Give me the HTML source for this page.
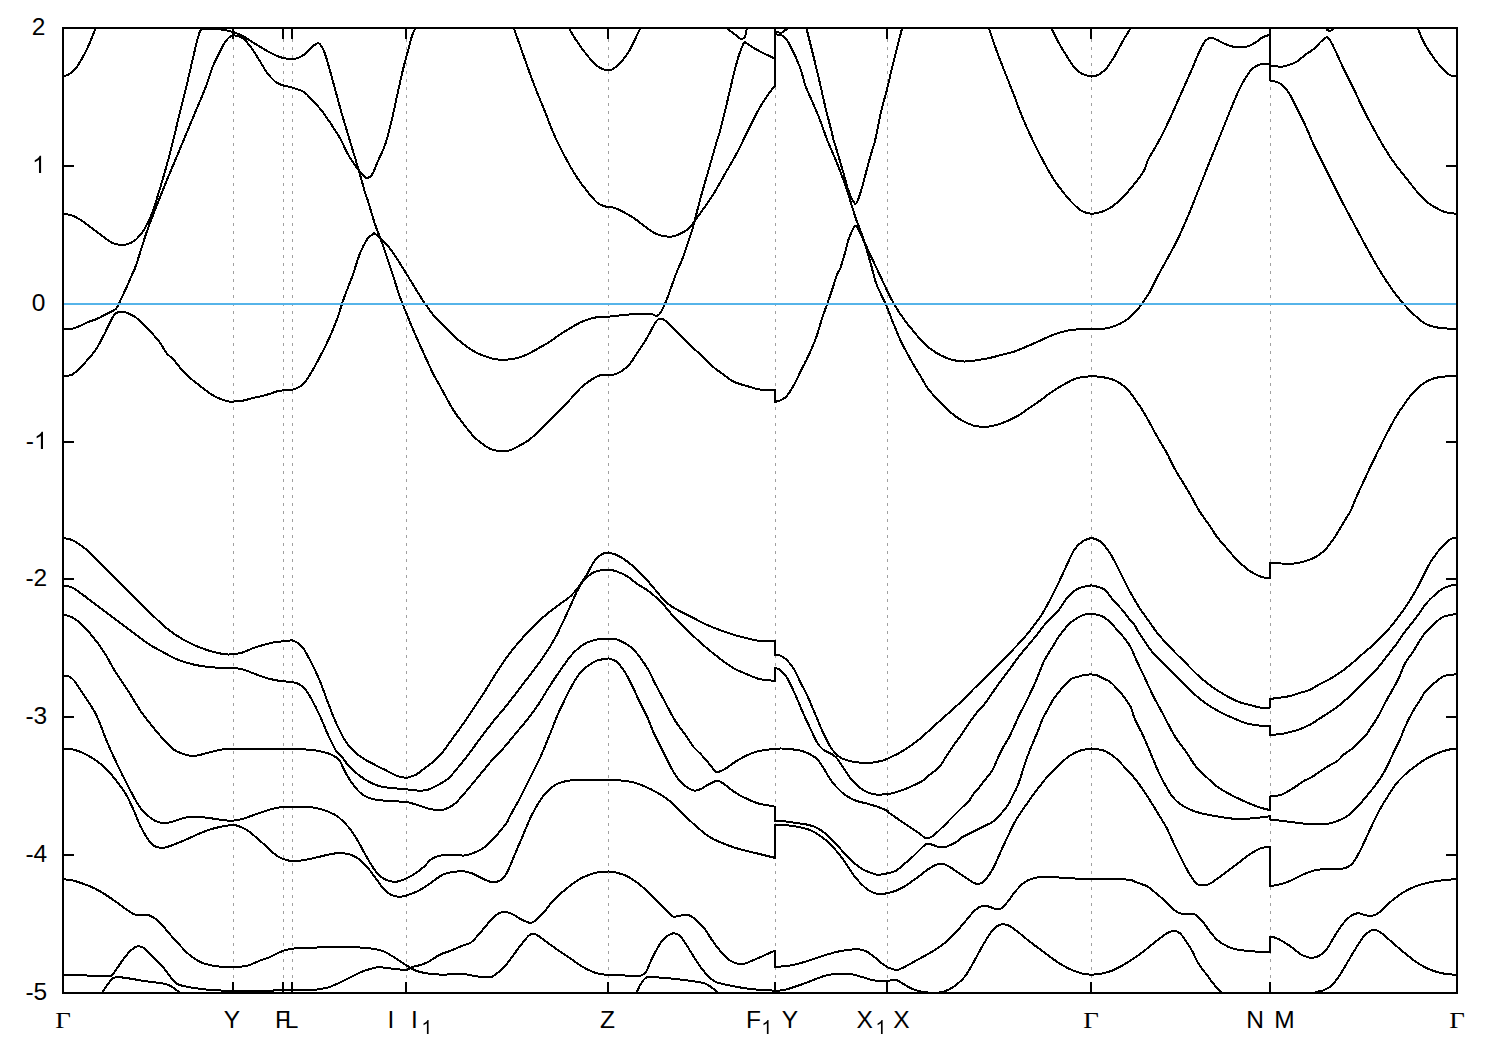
<!DOCTYPE html>
<html><head><meta charset="utf-8"><title>Band structure</title>
<style>
html,body{margin:0;padding:0;background:#fff;}
body{width:1500px;height:1050px;overflow:hidden;font-family:"Liberation Sans",sans-serif;}
svg{display:block;}
.t{font-family:"Liberation Sans",sans-serif;font-size:24.5px;fill:#000;}
.g{font-family:"Liberation Serif",serif;font-size:23.4px;fill:#000;}
.s{font-family:"Liberation Sans",sans-serif;font-size:19.5px;fill:#000;}
</style></head>
<body>
<svg width="1500" height="1050" viewBox="0 0 1500 1050">
<rect width="1500" height="1050" fill="#fff"/>
<defs><clipPath id="c"><rect x="63" y="27.5" width="1394" height="966"/></clipPath></defs>
<g stroke="#a0a0a0" stroke-width="1" stroke-dasharray="3 5" fill="none" shape-rendering="crispEdges">
<path d="M233.5 994V28"/>
<path d="M283.5 994V28"/>
<path d="M292.5 994V28"/>
<path d="M406.5 994V28"/>
<path d="M608.5 994V28"/>
<path d="M775.5 994V28"/>
<path d="M887.5 994V28"/>
<path d="M1091.5 994V28"/>
<path d="M1270.5 994V28"/>
</g>
<g clip-path="url(#c)" stroke="#000" stroke-width="2" fill="none" stroke-linejoin="round" stroke-linecap="round" shape-rendering="crispEdges">
<path d="M63.2 76.5C64.2 76.1 67.2 75.6 69.3 74.1C71.5 72.7 73.8 70.8 76.0 68.0C78.2 65.2 80.4 61.3 82.7 57.3C84.9 53.3 87.3 48.4 89.3 44.0C91.3 39.6 93.4 33.8 94.7 30.7C95.9 27.6 96.4 26.2 96.8 25.3"/>
<path d="M63.2 213.9C64.7 214.1 68.8 214.2 72.0 215.5C75.2 216.7 79.1 219.0 82.7 221.3C86.2 223.6 89.8 226.7 93.3 229.3C96.9 232.0 100.9 235.1 104.0 237.3C107.1 239.6 109.3 241.4 112.0 242.7C114.7 243.9 117.3 244.6 120.0 244.8C122.7 245.0 125.3 244.9 128.0 244.0C130.7 243.1 133.3 241.8 136.0 239.5C138.7 237.1 141.3 234.2 144.0 229.9C146.7 225.5 149.2 220.5 152.0 213.3C154.8 206.1 157.6 196.4 160.5 186.7C163.5 176.9 166.7 165.8 169.6 154.7C172.5 143.6 175.3 131.6 178.1 120.0C181.0 108.4 184.2 95.6 186.7 85.3C189.1 75.1 191.0 66.2 192.8 58.7C194.6 51.1 196.1 44.5 197.3 40.0C198.5 35.5 199.1 33.2 200.0 31.5C200.9 29.7 200.4 29.8 202.7 29.3C204.9 28.9 209.8 28.7 213.3 28.8C216.9 28.9 220.7 29.3 224.0 29.9C227.3 30.4 231.8 31.6 233.3 32.0"/>
<path d="M63.7 329.1C65.1 329.0 69.3 329.2 72.0 328.7C74.7 328.2 77.3 327.1 80.0 326.0C82.7 324.9 85.3 323.1 88.0 322.0C90.7 320.9 93.3 320.4 96.0 319.3C98.7 318.2 101.6 316.6 104.0 315.3C106.4 314.1 108.7 313.1 110.7 312.0C112.7 310.9 114.8 309.8 116.0 308.7C117.2 307.6 117.3 306.6 118.0 305.3C118.7 304.1 119.0 303.4 120.0 301.3C121.0 299.2 122.7 295.6 124.0 292.7C125.3 289.8 126.7 287.0 128.0 284.0C129.3 281.0 130.7 277.8 132.0 274.7C133.3 271.6 133.6 272.4 136.0 265.3C138.4 258.2 143.6 241.1 146.7 232.0C149.8 222.9 151.6 218.7 154.7 210.7C157.8 202.7 161.3 193.8 165.3 184.0C169.3 174.2 174.2 162.7 178.7 152.0C183.1 141.3 187.6 130.7 192.0 120.0C196.4 109.3 201.9 96.9 205.3 88.0C208.8 79.1 210.4 72.5 212.7 66.7C215.0 61.0 217.0 57.5 219.0 53.5C221.0 49.5 222.9 45.3 224.8 42.4C226.7 39.5 228.9 37.5 230.4 36.3C231.9 35.1 233.5 35.5 234.1 35.4"/>
<path d="M63.7 376.0C65.1 375.8 69.3 376.0 72.0 374.7C74.7 373.3 77.3 370.6 80.0 368.0C82.7 365.4 85.3 362.4 88.0 359.3C90.7 356.2 93.6 353.0 96.0 349.3C98.4 345.7 100.7 341.1 102.7 337.3C104.7 333.6 106.3 330.0 108.0 326.7C109.7 323.3 111.3 319.6 112.7 317.3C114.0 315.1 114.8 314.3 116.0 313.3C117.2 312.4 118.7 312.0 120.0 311.7C121.3 311.5 122.4 311.4 124.0 311.7C125.6 312.1 127.3 313.0 129.3 314.0C131.3 315.0 133.6 315.7 136.0 317.6C138.4 319.5 141.3 322.7 144.0 325.3C146.7 328.0 149.3 330.4 152.0 333.3C154.7 336.2 157.6 339.3 160.0 342.7C162.4 346.0 164.4 350.6 166.7 353.3C168.9 356.1 170.9 356.7 173.3 359.3C175.8 362.0 178.7 366.3 181.3 369.3C184.0 372.3 186.9 375.1 189.3 377.3C191.8 379.6 192.4 379.9 196.0 382.7C199.6 385.4 206.4 391.2 210.7 394.0C214.9 396.8 218.2 398.1 221.3 399.3C224.4 400.6 227.2 401.1 229.3 401.5C231.4 401.8 233.1 401.5 233.9 401.5"/>
<path d="M233.3 32.0C234.9 32.7 239.3 34.2 242.7 36.0C246.0 37.8 249.3 40.2 253.3 42.7C257.3 45.1 262.7 48.4 266.7 50.7C270.7 52.9 274.5 54.8 277.3 56.0C280.1 57.2 282.4 57.8 283.5 58.1"/>
<path d="M283.5 58.1L290.7 59.2"/>
<path d="M290.7 59.2C291.8 59.0 295.1 58.9 297.3 58.1C299.6 57.4 301.8 56.4 304.0 54.7C306.2 53.0 308.7 49.8 310.7 48.0C312.7 46.2 314.7 44.8 316.0 44.0C317.3 43.2 317.8 42.9 318.7 43.2C319.6 43.5 320.2 44.0 321.3 45.9C322.4 47.8 323.3 48.5 325.3 54.7C327.3 60.8 330.7 73.1 333.3 82.7C336.0 92.2 339.1 104.1 341.3 112.0C343.6 119.9 343.9 120.8 346.7 130.0C349.4 139.2 354.8 156.8 357.9 167.3C361.0 177.9 363.7 188.0 365.3 193.5C367.0 198.9 366.1 195.0 367.7 200.0C369.2 205.0 372.7 217.4 374.7 223.3C376.6 229.2 377.8 231.3 379.3 235.5C380.9 239.7 381.7 241.7 384.0 248.5C386.3 255.4 390.6 268.3 393.3 276.5C396.1 284.8 397.0 289.1 400.3 298.0C403.7 306.9 409.4 320.7 413.3 330.0C417.3 339.3 420.7 346.7 424.0 354.0C427.3 361.3 430.7 368.7 433.3 374.0C436.0 379.3 436.7 380.0 440.0 386.0C443.3 392.0 449.3 403.6 453.3 410.0C457.3 416.4 460.4 420.1 464.0 424.7C467.6 429.2 471.1 433.9 474.7 437.5C478.2 441.0 482.2 443.9 485.3 446.0C488.4 448.1 490.7 449.2 493.3 450.0C496.0 450.8 498.7 450.7 501.3 450.8C504.0 450.9 506.7 451.2 509.3 450.5C512.0 449.9 514.2 448.4 517.3 446.8C520.4 445.2 524.4 443.2 528.0 440.7C531.6 438.1 535.1 434.7 538.7 431.3C542.2 428.0 545.8 424.2 549.3 420.7C552.9 417.1 556.4 413.6 560.0 410.0C563.6 406.4 567.1 402.6 570.7 398.8C574.2 395.0 577.8 390.6 581.3 387.3C584.9 384.1 588.9 381.3 592.0 379.3C595.1 377.3 597.2 376.1 600.0 375.3C602.8 374.6 607.1 374.9 608.5 374.8"/>
<path d="M608.5 374.8C609.3 374.8 611.2 375.4 613.3 374.8C615.5 374.2 618.7 373.0 621.3 371.3C624.0 369.6 626.7 367.8 629.3 364.7C632.0 361.6 634.7 356.7 637.3 352.7C640.0 348.7 642.9 344.7 645.3 340.7C647.8 336.7 650.2 331.9 652.0 328.7C653.8 325.5 654.7 323.2 656.0 321.5C657.3 319.8 658.4 318.7 660.0 318.5C661.6 318.4 662.9 318.8 665.3 320.7C667.8 322.6 670.9 326.2 674.7 330.0C678.4 333.8 683.6 339.1 688.0 343.3C692.4 347.6 697.3 351.6 701.3 355.3C705.3 359.1 708.4 362.9 712.0 366.0C715.6 369.1 719.1 371.4 722.7 374.0C726.2 376.6 729.3 379.5 733.3 381.5C737.3 383.5 742.2 384.7 746.7 386.0C751.1 387.3 755.3 388.8 760.0 389.5C764.7 390.2 772.5 390.1 775.0 390.3"/>
<path d="M234.1 35.4C234.8 35.5 236.9 35.7 238.5 36.3C240.1 36.9 241.4 37.1 243.5 38.9C245.6 40.7 248.3 43.6 250.9 47.1C253.5 50.6 256.7 55.9 259.3 60.1C261.9 64.3 264.2 68.7 266.8 72.3C269.4 75.9 272.4 79.3 275.2 81.6C278.0 83.8 282.1 85.1 283.5 85.8"/>
<path d="M283.5 85.3L292.0 87.5"/>
<path d="M292.0 87.5C294.0 88.2 300.7 89.9 304.0 92.0C307.3 94.1 308.9 96.7 312.0 100.0C315.1 103.3 318.2 106.0 322.7 112.0C327.1 118.0 334.4 128.8 338.7 136.0C343.0 143.2 345.3 149.7 348.5 155.2C351.7 160.7 355.4 165.8 357.9 169.2C360.4 172.6 361.9 174.3 363.5 175.7C365.0 177.2 365.8 178.2 367.2 178.1C368.6 177.9 370.5 176.7 371.9 174.8C373.3 172.9 374.4 169.7 375.6 166.9C376.8 164.1 378.1 160.8 379.3 158.0C380.6 155.2 381.7 153.2 383.0 150.0C384.3 146.8 385.3 144.7 386.9 139.0C388.5 133.3 391.0 123.4 392.7 116.0C394.4 108.6 395.6 102.2 397.3 94.7C399.0 87.2 400.9 78.0 402.7 70.7C404.5 63.4 406.4 56.5 408.0 50.7C409.6 44.9 410.8 39.8 412.0 36.0C413.2 32.2 414.4 30.7 415.3 28.0C416.2 25.3 417.1 21.3 417.5 20.0"/>
<path d="M233.9 401.5C235.3 401.3 239.4 401.2 242.7 400.7C245.9 400.1 249.3 399.0 253.3 398.0C257.3 397.0 262.7 395.9 266.7 394.8C270.7 393.7 274.5 392.1 277.3 391.3C280.1 390.6 282.4 390.4 283.5 390.3"/>
<path d="M283.5 390.3L292.8 389.5"/>
<path d="M292.8 389.5C293.8 389.1 296.8 388.4 298.7 387.3C300.5 386.3 301.8 386.0 304.0 383.3C306.2 380.7 309.3 375.8 312.0 371.3C314.7 366.9 317.3 361.8 320.0 356.7C322.7 351.6 325.3 346.4 328.0 340.7C330.7 334.9 333.3 329.1 336.0 322.0C338.7 314.9 341.3 305.6 344.0 298.0C346.7 290.4 349.6 283.8 352.3 276.5C354.9 269.2 357.2 260.4 359.7 254.1C362.2 247.9 365.0 242.5 367.2 239.2C369.4 235.9 371.6 235.0 372.8 234.1C374.0 233.1 373.4 233.0 374.7 233.6C375.9 234.2 377.5 235.0 380.3 237.8C383.1 240.6 387.1 244.4 391.5 250.4C395.8 256.4 401.4 265.8 406.4 273.7C411.4 281.7 416.6 290.8 421.3 298.0C426.0 305.2 430.7 311.8 434.7 316.7C438.7 321.6 441.8 323.8 445.3 327.3C448.9 330.9 452.4 334.8 456.0 338.0C459.6 341.2 463.1 344.0 466.7 346.5C470.2 349.1 473.8 351.4 477.3 353.2C480.9 355.0 484.9 356.2 488.0 357.2C491.1 358.2 492.9 358.9 496.0 359.3C499.1 359.7 503.1 359.8 506.7 359.6C510.2 359.4 513.8 358.9 517.3 358.0C520.9 357.1 524.4 355.6 528.0 354.0C531.6 352.4 535.1 350.1 538.7 348.1C542.2 346.1 545.8 344.3 549.3 342.0C552.9 339.7 556.4 336.9 560.0 334.5C563.6 332.2 567.1 330.0 570.7 327.9C574.2 325.8 577.8 323.6 581.3 322.0C584.9 320.4 588.9 319.1 592.0 318.3C595.1 317.4 597.2 317.2 600.0 316.9C602.8 316.7 607.1 316.7 608.5 316.7"/>
<path d="M608.5 316.7C610.7 316.4 617.0 315.8 621.3 315.3C625.7 314.9 630.7 314.3 634.7 314.0C638.7 313.7 642.4 313.7 645.3 313.7C648.2 313.8 650.1 313.9 652.0 314.3C653.9 314.6 655.2 316.0 656.5 315.9C657.9 315.7 658.8 315.1 660.0 313.5C661.2 311.8 662.4 309.5 664.0 306.0C665.6 302.5 667.3 298.0 669.3 292.7C671.3 287.3 673.8 279.8 676.0 274.0C678.2 268.2 680.2 264.6 682.7 258.0C685.1 251.4 688.7 240.9 690.7 234.7C692.7 228.5 693.1 226.6 694.7 220.8C696.2 215.0 697.8 208.1 700.0 200.0C702.2 191.9 705.3 181.3 708.0 172.0C710.7 162.7 714.0 150.8 716.0 144.0C718.0 137.2 718.2 137.7 720.0 131.0C721.8 124.3 724.5 113.2 726.7 104.0C728.9 94.8 731.3 84.0 733.3 76.0C735.3 68.0 737.1 61.1 738.7 56.0C740.3 50.9 741.7 47.6 742.7 45.3C743.7 43.0 744.4 42.5 744.7 42.0"/>
<path d="M744.7 42.0C746.8 43.3 752.2 47.2 757.3 50.0C762.3 52.8 772.0 57.2 775.0 58.7"/>
<path d="M725.5 26.0C725.8 26.4 725.5 27.1 727.3 28.7C729.0 30.2 733.8 33.6 736.0 35.3C738.2 37.0 739.2 38.4 740.7 38.7C742.2 39.0 743.7 39.0 744.7 37.3C745.7 35.6 746.3 30.6 746.7 28.7C747.1 26.8 747.1 26.4 747.2 26.0"/>
<path d="M512.0 22.7C513.8 27.8 519.1 43.3 522.7 53.3C526.2 63.3 529.8 73.3 533.3 82.7C536.9 92.0 540.4 100.4 544.0 109.3C547.6 118.2 551.1 128.0 554.7 136.0C558.2 144.0 561.8 150.7 565.3 157.3C568.9 164.0 572.4 170.4 576.0 176.0C579.6 181.6 583.1 186.2 586.7 190.7C590.2 195.1 594.4 200.1 597.3 202.7C600.2 205.2 602.1 205.4 604.0 206.1C605.9 206.8 607.8 206.8 608.5 206.9"/>
<path d="M608.5 206.9C609.6 207.1 612.1 207.1 614.7 208.0C617.2 208.9 620.7 210.5 624.0 212.3C627.3 214.0 631.1 216.3 634.7 218.7C638.2 221.1 641.8 224.1 645.3 226.7C648.9 229.2 652.4 232.2 656.0 233.9C659.6 235.5 663.6 236.2 666.7 236.5C669.8 236.9 672.0 236.7 674.7 236.0C677.3 235.3 680.2 233.9 682.7 232.5C685.1 231.2 687.3 230.0 689.3 228.0C691.3 226.0 692.2 224.1 694.7 220.8C697.1 217.5 700.7 212.8 704.0 208.0C707.3 203.2 711.1 197.8 714.7 192.0C718.2 186.2 721.8 179.6 725.3 173.3C728.9 167.1 732.4 161.3 736.0 154.7C739.6 148.0 743.1 140.4 746.7 133.3C750.2 126.2 754.2 117.8 757.3 112.0C760.4 106.2 762.9 102.4 765.3 98.7C767.8 94.9 770.4 91.5 772.0 89.3C773.6 87.2 774.5 86.4 775.0 85.9"/>
<path d="M565.9 22.7C567.6 25.6 572.5 34.7 576.0 40.0C579.5 45.3 583.1 50.3 586.7 54.7C590.2 59.0 594.2 63.6 597.3 66.1C600.4 68.7 603.5 69.2 605.3 69.9C607.2 70.5 608.0 70.1 608.5 70.1"/>
<path d="M608.5 70.1C609.3 69.9 611.2 70.2 613.3 68.8C615.5 67.4 618.7 64.9 621.3 61.9C624.0 58.8 626.9 54.8 629.3 50.7C631.8 46.6 633.8 41.9 636.0 37.3C638.2 32.8 641.6 25.8 642.7 23.5"/>
<path d="M775.0 20.0L775.0 86.0"/>
<path d="M775.0 34.3C776.4 34.6 780.8 34.2 783.3 36.0C785.8 37.8 787.2 40.1 790.0 45.3C792.8 50.6 797.4 60.7 800.0 67.3C802.6 74.0 803.1 79.2 805.3 85.3C807.6 91.4 810.9 98.2 813.3 104.0C815.8 109.8 817.7 114.0 820.0 120.0C822.3 126.0 824.9 134.0 827.2 140.0C829.5 146.0 831.5 150.0 834.0 156.0C836.5 162.0 839.7 170.0 842.0 176.0C844.3 182.0 846.1 187.6 847.6 192.0C849.1 196.4 849.9 199.3 850.8 202.4C851.7 205.5 852.1 207.1 853.2 210.4C854.3 213.7 856.1 219.5 857.2 222.4C858.3 225.3 858.3 224.3 859.6 228.0C860.9 231.7 863.3 238.8 865.2 244.8C867.1 250.8 868.9 257.5 870.8 264.0C872.7 270.5 874.0 277.4 876.4 284.0C878.8 290.6 882.5 296.8 885.3 303.3C888.2 309.9 890.7 316.9 893.3 323.3C896.0 329.8 898.2 335.6 901.3 342.0C904.4 348.4 908.9 356.4 912.0 362.0C915.1 367.6 917.3 370.9 920.0 375.3C922.7 379.8 924.9 384.4 928.0 388.7C931.1 392.9 935.1 396.9 938.7 400.7C942.2 404.4 945.8 408.2 949.3 411.3C952.9 414.4 956.0 417.0 960.0 419.3C964.0 421.7 968.9 424.2 973.3 425.5C977.8 426.7 982.7 426.9 986.7 426.8C990.7 426.7 993.8 425.7 997.3 424.7C1000.9 423.6 1004.4 422.2 1008.0 420.7C1011.6 419.1 1015.1 417.5 1018.7 415.3C1022.2 413.2 1025.8 410.3 1029.3 407.9C1032.9 405.4 1036.4 403.2 1040.0 400.7C1043.6 398.1 1047.1 395.1 1050.7 392.7C1054.2 390.2 1057.8 388.1 1061.3 386.0C1064.9 383.9 1068.9 381.6 1072.0 380.1C1075.1 378.7 1076.8 378.1 1080.0 377.5C1083.2 376.8 1089.6 376.4 1091.5 376.1"/>
<path d="M775.0 32.0C776.1 32.1 779.8 32.8 781.3 32.7C782.8 32.5 783.0 31.7 784.0 31.0C785.0 30.3 786.2 29.6 787.3 28.7C788.4 27.7 790.1 25.9 790.7 25.3"/>
<path d="M804.8 21.3C805.8 25.3 808.6 36.9 810.7 45.3C812.8 53.8 815.1 62.7 817.3 72.0C819.6 81.3 821.6 91.1 824.0 101.3C826.4 111.6 830.4 126.9 832.0 133.3C833.6 139.8 832.6 136.5 833.6 140.0C834.6 143.5 836.3 148.8 838.0 154.4C839.7 160.0 842.0 168.0 843.6 173.6C845.2 179.2 846.3 183.9 847.6 188.0C848.9 192.1 850.5 196.0 851.6 198.4C852.7 200.8 853.3 201.5 854.0 202.4C854.7 203.3 855.2 204.4 856.0 203.6C856.8 202.8 857.7 200.7 858.8 197.6C859.9 194.5 861.3 190.0 862.8 184.8C864.3 179.6 866.0 172.3 867.6 166.4C869.2 160.5 871.1 154.0 872.4 149.6C873.7 145.2 873.7 146.5 875.2 140.0C876.7 133.5 879.4 118.9 881.3 110.7C883.2 102.5 884.9 97.8 886.7 90.7C888.5 83.6 890.2 75.3 892.0 68.0C893.8 60.7 895.6 53.2 897.3 46.7C899.0 40.2 901.0 32.8 902.0 28.7C903.0 24.6 903.3 23.1 903.6 22.0"/>
<path d="M775.0 402.0C776.1 401.6 779.4 400.8 781.3 399.9C783.3 398.9 784.7 398.4 786.7 396.1C788.7 393.8 791.1 389.9 793.3 386.0C795.6 382.1 797.6 377.6 800.0 372.7C802.4 367.8 805.3 362.4 808.0 356.7C810.7 350.9 813.6 344.7 816.0 338.0C818.4 331.3 820.4 323.3 822.7 316.7C824.9 310.0 826.9 305.1 829.3 298.0C831.8 290.9 835.5 279.0 837.3 274.0C839.2 269.0 839.1 271.7 840.4 268.0C841.7 264.3 843.9 256.7 845.2 252.0C846.5 247.3 847.2 243.6 848.4 240.0C849.6 236.4 851.1 232.7 852.4 230.4C853.7 228.1 854.5 225.1 856.0 226.0C857.5 226.9 859.5 232.3 861.2 235.6C862.9 238.9 862.2 237.5 866.0 245.6C869.8 253.7 880.3 276.2 884.0 284.0C887.7 291.8 886.0 288.8 888.0 292.7C890.0 296.6 893.3 302.9 896.0 307.3C898.7 311.8 900.9 315.1 904.0 319.3C907.1 323.6 911.1 328.4 914.7 332.7C918.2 336.9 921.8 341.3 925.3 344.7C928.9 348.0 932.4 350.4 936.0 352.7C939.6 354.9 943.1 356.6 946.7 358.0C950.2 359.4 954.2 360.4 957.3 360.9C960.4 361.5 962.2 361.6 965.3 361.5C968.4 361.4 972.0 361.0 976.0 360.4C980.0 359.8 985.3 358.8 989.3 358.0C993.3 357.2 996.0 356.4 1000.0 355.3C1004.0 354.3 1008.9 353.3 1013.3 351.9C1017.8 350.4 1022.2 348.4 1026.7 346.5C1031.1 344.7 1035.6 342.6 1040.0 340.7C1044.4 338.7 1048.9 336.4 1053.3 334.8C1057.8 333.2 1062.2 331.7 1066.7 330.8C1071.1 329.9 1075.9 329.5 1080.0 329.2C1084.1 328.9 1089.6 329.0 1091.5 328.9"/>
<path d="M775.0 390.3L775.0 402.0"/>
<path d="M987.2 22.7C988.4 26.4 992.1 38.0 994.7 45.3C997.2 52.7 999.6 58.7 1002.7 66.7C1005.8 74.7 1010.2 85.3 1013.3 93.3C1016.4 101.3 1018.2 107.1 1021.3 114.7C1024.4 122.2 1028.4 131.1 1032.0 138.7C1035.6 146.2 1039.1 153.3 1042.7 160.0C1046.2 166.7 1049.8 173.1 1053.3 178.7C1056.9 184.2 1060.4 188.9 1064.0 193.3C1067.6 197.8 1071.6 202.3 1074.7 205.3C1077.8 208.4 1079.9 210.0 1082.7 211.5C1085.5 212.9 1090.0 213.5 1091.5 213.9"/>
<path d="M1091.5 213.9C1093.1 213.6 1097.9 213.2 1101.3 212.0C1104.8 210.8 1108.4 209.1 1112.0 206.7C1115.6 204.2 1119.1 200.9 1122.7 197.3C1126.2 193.8 1129.8 189.8 1133.3 185.3C1136.9 180.9 1141.6 174.9 1144.0 170.7C1146.4 166.4 1145.6 164.9 1148.0 160.0C1150.4 155.1 1155.1 148.0 1158.7 141.3C1162.2 134.7 1165.8 127.6 1169.3 120.0C1172.9 112.4 1176.4 104.0 1180.0 96.0C1183.6 88.0 1187.6 79.1 1190.7 72.0C1193.8 64.9 1196.4 58.2 1198.7 53.3C1200.9 48.4 1202.4 45.1 1204.0 42.7C1205.6 40.2 1206.8 39.5 1208.0 38.7C1209.2 37.8 1209.9 37.4 1211.5 37.6C1213.0 37.8 1215.0 38.9 1217.3 40.0C1219.6 41.1 1222.7 42.9 1225.3 44.0C1228.0 45.1 1230.7 46.1 1233.3 46.7C1236.0 47.2 1238.7 47.6 1241.3 47.5C1244.0 47.3 1246.9 46.8 1249.3 45.9C1251.8 45.0 1253.8 43.6 1256.0 42.1C1258.2 40.7 1260.3 38.6 1262.7 37.3C1265.0 36.1 1268.8 35.1 1270.0 34.7"/>
<path d="M1048.5 22.7C1050.2 26.0 1055.6 37.1 1058.7 42.7C1061.7 48.2 1064.0 51.8 1066.7 56.0C1069.3 60.2 1072.0 65.0 1074.7 68.0C1077.3 71.0 1079.9 72.7 1082.7 74.1C1085.5 75.6 1090.0 76.1 1091.5 76.5"/>
<path d="M1091.5 76.5C1092.7 76.2 1096.1 76.1 1098.7 74.7C1101.2 73.2 1104.0 71.1 1106.7 68.0C1109.3 64.9 1112.0 60.4 1114.7 56.0C1117.3 51.6 1120.0 46.0 1122.7 41.3C1125.3 36.7 1128.9 31.1 1130.7 28.0C1132.4 24.9 1132.9 23.6 1133.3 22.7"/>
<path d="M1091.5 328.9C1093.6 328.9 1100.1 329.2 1104.0 328.7C1107.9 328.2 1111.1 327.3 1114.7 326.0C1118.2 324.7 1122.2 322.7 1125.3 320.7C1128.4 318.7 1130.7 316.7 1133.3 314.0C1136.0 311.3 1138.7 308.2 1141.3 304.7C1144.0 301.1 1146.9 296.9 1149.3 292.7C1151.8 288.4 1153.6 284.0 1156.0 279.3C1158.4 274.7 1160.4 271.2 1164.0 264.7C1167.6 258.1 1173.3 248.1 1177.3 240.0C1181.3 231.9 1184.4 224.4 1188.0 216.0C1191.6 207.6 1195.1 198.2 1198.7 189.3C1202.2 180.4 1205.8 171.6 1209.3 162.7C1212.9 153.8 1216.4 144.9 1220.0 136.0C1223.6 127.1 1227.6 116.9 1230.7 109.3C1233.8 101.8 1236.0 96.2 1238.7 90.7C1241.3 85.1 1244.2 79.8 1246.7 76.0C1249.1 72.2 1251.1 69.9 1253.3 68.0C1255.6 66.1 1257.2 65.3 1260.0 64.5C1262.8 63.8 1268.3 63.6 1270.0 63.5"/>
<path d="M1091.5 376.1C1093.1 376.3 1097.9 376.4 1101.3 376.9C1104.8 377.5 1108.9 378.3 1112.0 379.3C1115.1 380.4 1117.3 381.6 1120.0 383.3C1122.7 385.1 1125.3 387.1 1128.0 390.0C1130.7 392.9 1133.3 396.9 1136.0 400.7C1138.7 404.4 1141.6 408.7 1144.0 412.7C1146.4 416.7 1148.2 420.2 1150.7 424.7C1153.1 429.1 1156.0 434.7 1158.7 439.3C1161.3 444.0 1164.0 447.8 1166.7 452.7C1169.3 457.6 1172.0 463.8 1174.7 468.7C1177.3 473.6 1180.0 477.6 1182.7 482.0C1185.3 486.4 1188.0 490.7 1190.7 495.3C1193.3 500.0 1195.6 505.0 1198.7 510.0C1201.8 515.0 1206.2 520.8 1209.3 525.3C1212.4 529.9 1214.7 533.8 1217.3 537.3C1220.0 540.9 1222.7 543.6 1225.3 546.7C1228.0 549.8 1230.7 553.1 1233.3 556.0C1236.0 558.9 1238.7 561.6 1241.3 564.0C1244.0 566.4 1246.7 568.8 1249.3 570.7C1252.0 572.5 1254.9 574.0 1257.3 575.2C1259.8 576.4 1261.9 577.2 1264.0 577.6C1266.1 578.0 1269.0 577.8 1270.0 577.9"/>
<path d="M1270.0 20.0L1270.0 80.5"/>
<path d="M1270.0 577.9L1270.0 562.7"/>
<path d="M1270.0 65.3C1271.9 65.6 1278.1 66.8 1281.3 66.7C1284.6 66.6 1286.7 65.7 1289.3 64.8C1292.0 63.9 1294.7 63.0 1297.3 61.3C1300.0 59.6 1302.7 56.7 1305.3 54.7C1308.0 52.7 1310.7 51.6 1313.3 49.3C1316.0 47.1 1319.1 43.3 1321.3 41.3C1323.6 39.3 1325.1 37.3 1326.7 37.3C1328.2 37.3 1329.1 38.9 1330.7 41.3C1332.2 43.8 1334.0 47.8 1336.0 52.0C1338.0 56.2 1339.8 60.7 1342.7 66.7C1345.6 72.7 1349.8 80.7 1353.3 88.0C1356.9 95.3 1360.4 103.6 1364.0 110.7C1367.6 117.8 1371.1 124.2 1374.7 130.7C1378.2 137.1 1381.8 143.6 1385.3 149.3C1388.9 155.1 1392.4 160.4 1396.0 165.3C1399.6 170.2 1403.1 174.2 1406.7 178.7C1410.2 183.1 1413.8 188.0 1417.3 192.0C1420.9 196.0 1424.4 199.8 1428.0 202.7C1431.6 205.6 1435.6 207.7 1438.7 209.3C1441.8 211.0 1443.6 211.8 1446.7 212.5C1449.8 213.3 1455.6 213.6 1457.3 213.9"/>
<path d="M1270.0 80.5C1271.2 80.8 1275.0 81.1 1277.3 82.1C1279.7 83.2 1281.8 84.4 1284.0 86.7C1286.2 89.0 1288.4 92.2 1290.7 96.0C1292.9 99.8 1294.9 104.4 1297.3 109.3C1299.8 114.2 1302.7 119.6 1305.3 125.3C1308.0 131.1 1310.7 138.2 1313.3 144.0C1316.0 149.8 1318.2 153.8 1321.3 160.0C1324.4 166.2 1328.4 174.2 1332.0 181.3C1335.6 188.4 1339.1 195.8 1342.7 202.7C1346.2 209.6 1349.8 216.0 1353.3 222.7C1356.9 229.3 1360.4 236.1 1364.0 242.7C1367.6 249.2 1371.6 256.6 1374.7 262.0C1377.8 267.4 1380.0 271.1 1382.7 275.3C1385.3 279.6 1388.0 283.6 1390.7 287.3C1393.3 291.1 1396.0 294.7 1398.7 298.0C1401.3 301.3 1404.0 304.4 1406.7 307.3C1409.3 310.2 1412.0 312.9 1414.7 315.3C1417.3 317.8 1420.0 320.2 1422.7 322.0C1425.3 323.8 1427.6 325.0 1430.7 326.0C1433.8 327.0 1436.9 327.6 1441.3 328.1C1445.8 328.6 1454.7 328.8 1457.3 328.9"/>
<path d="M1415.5 22.7C1416.9 26.0 1421.0 36.9 1424.0 42.7C1427.0 48.4 1430.2 53.0 1433.3 57.3C1436.4 61.7 1439.8 65.8 1442.7 68.8C1445.6 71.8 1448.2 74.2 1450.7 75.5C1453.1 76.8 1456.2 76.4 1457.3 76.5"/>
<path d="M1325.3 26.7C1325.6 27.2 1326.4 29.2 1327.2 29.9C1328.0 30.5 1329.2 31.0 1330.4 30.7C1331.6 30.4 1333.7 28.8 1334.7 28.0C1335.6 27.2 1336.0 26.4 1336.3 26.1"/>
<path d="M1270.0 562.7C1271.9 562.8 1277.7 563.3 1281.3 563.5C1285.0 563.6 1288.4 564.0 1292.0 563.7C1295.6 563.5 1299.6 562.6 1302.7 561.9C1305.8 561.1 1308.0 560.3 1310.7 559.2C1313.3 558.1 1316.0 557.1 1318.7 555.2C1321.3 553.3 1324.0 551.0 1326.7 548.0C1329.3 545.0 1332.0 541.3 1334.7 537.3C1337.3 533.3 1340.0 528.4 1342.7 524.0C1345.3 519.6 1348.4 515.0 1350.7 510.7C1352.9 506.3 1353.8 503.0 1356.0 498.0C1358.2 493.0 1361.3 486.4 1364.0 480.7C1366.7 474.9 1369.3 468.9 1372.0 463.3C1374.7 457.8 1377.3 452.7 1380.0 447.3C1382.7 442.0 1385.3 436.4 1388.0 431.3C1390.7 426.2 1393.3 421.1 1396.0 416.7C1398.7 412.2 1401.3 408.4 1404.0 404.7C1406.7 400.9 1409.3 397.1 1412.0 394.0C1414.7 390.9 1417.3 388.2 1420.0 386.0C1422.7 383.8 1424.9 382.1 1428.0 380.7C1431.1 379.2 1433.8 378.0 1438.7 377.2C1443.6 376.4 1454.2 375.9 1457.3 375.6"/>
<path d="M63.2 538.1C64.7 538.4 68.8 538.6 72.0 540.0C75.2 541.4 79.1 544.0 82.7 546.7C86.2 549.3 89.3 552.2 93.3 556.0C97.3 559.8 102.2 564.9 106.7 569.3C111.1 573.8 115.1 577.8 120.0 582.7C124.9 587.6 130.7 593.3 136.0 598.7C141.3 604.0 146.7 609.6 152.0 614.7C157.3 619.8 162.7 625.1 168.0 629.3C173.3 633.6 178.7 637.0 184.0 640.0C189.3 643.0 195.1 645.5 200.0 647.5C204.9 649.5 208.9 650.8 213.3 652.0C217.8 653.2 223.2 654.0 226.7 654.4C230.1 654.8 232.7 654.2 233.9 654.1"/>
<path d="M233.9 654.1C235.3 653.9 239.4 653.6 242.7 652.5C245.9 651.5 249.8 649.3 253.3 648.0C256.9 646.7 260.4 645.8 264.0 644.8C267.6 643.8 271.4 642.7 274.7 642.1C277.9 641.6 282.0 641.5 283.5 641.3"/>
<path d="M283.5 641.3L292.0 640.3"/>
<path d="M292.0 640.3C292.9 640.7 295.3 641.2 297.3 642.7C299.3 644.2 301.6 645.8 304.0 649.3C306.4 652.9 309.3 658.7 312.0 664.0C314.7 669.3 317.3 674.9 320.0 681.3C322.7 687.8 325.3 695.8 328.0 702.7C330.7 709.6 333.3 716.7 336.0 722.7C338.7 728.7 341.3 734.2 344.0 738.7C346.7 743.1 348.9 746.1 352.0 749.3C355.1 752.6 359.1 755.7 362.7 758.1C366.2 760.6 369.3 761.9 373.3 764.0C377.3 766.1 382.7 768.7 386.7 770.7C390.7 772.7 394.0 774.8 397.3 776.0C400.7 777.2 405.1 777.6 406.7 777.9"/>
<path d="M406.7 777.9C408.2 777.3 412.7 776.5 416.0 774.7C419.3 772.8 424.0 768.7 426.7 766.7C429.3 764.7 429.3 765.1 432.0 762.7C434.7 760.2 439.1 756.2 442.7 752.0C446.2 747.8 449.8 742.2 453.3 737.3C456.9 732.4 460.4 727.8 464.0 722.7C467.6 717.6 471.1 712.0 474.7 706.7C478.2 701.3 481.8 696.2 485.3 690.7C488.9 685.1 492.4 678.9 496.0 673.3C499.6 667.8 503.1 662.2 506.7 657.3C510.2 652.4 513.8 648.2 517.3 644.0C520.9 639.8 524.4 635.8 528.0 632.0C531.6 628.2 535.1 624.7 538.7 621.3C542.2 618.0 545.8 614.9 549.3 612.0C552.9 609.1 556.4 606.7 560.0 604.0C563.6 601.3 567.6 598.9 570.7 596.0C573.8 593.1 576.0 590.2 578.7 586.7C581.3 583.1 584.2 578.7 586.7 574.7C589.1 570.7 591.3 565.7 593.3 562.7C595.3 559.6 596.9 558.1 598.7 556.5C600.4 555.0 602.4 554.0 604.0 553.3C605.6 552.7 607.8 552.7 608.5 552.5"/>
<path d="M608.5 552.5C609.8 552.9 613.4 553.6 616.0 554.7C618.6 555.8 621.3 557.4 624.0 559.2C626.7 561.0 629.3 563.0 632.0 565.3C634.7 567.7 637.3 570.7 640.0 573.3C642.7 576.0 645.3 578.4 648.0 581.3C650.7 584.2 653.3 587.6 656.0 590.7C658.7 593.8 661.3 597.3 664.0 600.0C666.7 602.7 668.9 604.6 672.0 606.7C675.1 608.8 679.1 610.7 682.7 612.5C686.2 614.4 689.3 615.8 693.3 617.9C697.3 619.9 702.2 622.8 706.7 624.8C711.1 626.8 715.6 628.5 720.0 630.1C724.4 631.8 728.9 633.3 733.3 634.7C737.8 636.0 742.7 637.2 746.7 638.1C750.7 639.1 752.6 640.0 757.3 640.5C762.1 641.1 772.1 641.2 775.0 641.3"/>
<path d="M775.0 641.3L775.0 654.7"/>
<path d="M775.0 654.7C776.1 654.9 779.4 655.1 781.3 656.0C783.3 656.9 784.7 658.0 786.7 660.0C788.7 662.0 791.1 664.4 793.3 668.0C795.6 671.6 797.6 676.4 800.0 681.3C802.4 686.2 805.3 691.6 808.0 697.3C810.7 703.1 813.3 709.8 816.0 716.0C818.7 722.2 821.3 729.1 824.0 734.7C826.7 740.2 829.3 745.6 832.0 749.3C834.7 753.1 836.9 755.3 840.0 757.3C843.1 759.3 847.1 760.4 850.7 761.3C854.2 762.2 857.8 762.4 861.3 762.7C864.9 762.9 868.4 763.0 872.0 762.7C875.6 762.3 880.1 761.2 882.7 760.5C885.2 759.9 886.7 759.0 887.5 758.7"/>
<path d="M887.5 758.7C889.3 757.8 895.0 755.3 898.7 753.3C902.3 751.3 905.8 749.1 909.3 746.7C912.9 744.2 916.0 742.0 920.0 738.7C924.0 735.3 928.9 730.7 933.3 726.7C937.8 722.7 942.2 718.7 946.7 714.7C951.1 710.7 955.6 706.9 960.0 702.7C964.4 698.4 968.9 693.8 973.3 689.3C977.8 684.9 982.2 680.4 986.7 676.0C991.1 671.6 995.6 667.1 1000.0 662.7C1004.4 658.2 1008.9 654.0 1013.3 649.3C1017.8 644.7 1022.2 640.0 1026.7 634.7C1031.1 629.3 1036.0 623.3 1040.0 617.3C1044.0 611.3 1047.6 604.4 1050.7 598.7C1053.8 592.9 1056.0 588.2 1058.7 582.7C1061.3 577.1 1064.0 570.9 1066.7 565.3C1069.3 559.8 1072.0 553.3 1074.7 549.3C1077.3 545.3 1079.9 543.2 1082.7 541.3C1085.5 539.4 1090.0 538.4 1091.5 537.9"/>
<path d="M1091.5 537.9C1092.9 538.4 1097.0 539.0 1100.0 541.3C1103.0 543.7 1106.4 547.8 1109.3 552.0C1112.2 556.2 1114.2 560.7 1117.3 566.7C1120.4 572.7 1124.4 581.3 1128.0 588.0C1131.6 594.7 1135.3 601.3 1138.7 606.7C1142.0 612.0 1144.7 615.3 1148.0 620.0C1151.3 624.7 1154.7 629.8 1158.7 634.7C1162.7 639.6 1167.6 644.7 1172.0 649.3C1176.4 654.0 1180.9 658.2 1185.3 662.7C1189.8 667.1 1194.2 672.0 1198.7 676.0C1203.1 680.0 1207.6 683.5 1212.0 686.7C1216.4 689.9 1220.9 692.7 1225.3 695.2C1229.8 697.7 1234.7 700.3 1238.7 701.9C1242.7 703.5 1245.8 703.9 1249.3 704.8C1252.9 705.7 1256.6 707.0 1260.0 707.5C1263.4 707.9 1268.3 707.5 1270.0 707.5"/>
<path d="M1270.0 707.5L1270.0 698.9"/>
<path d="M1270.0 698.9C1271.7 698.7 1276.7 698.2 1280.0 697.7C1283.3 697.2 1286.7 696.8 1290.0 696.0C1293.3 695.2 1296.8 693.8 1300.0 692.8C1303.2 691.8 1306.2 691.5 1309.5 690.0C1312.8 688.5 1316.7 685.8 1320.0 684.0C1323.3 682.2 1326.2 681.0 1329.3 679.3C1332.4 677.5 1335.2 675.9 1338.7 673.5C1342.2 671.1 1346.1 668.2 1350.0 665.0C1353.9 661.8 1358.5 657.6 1362.0 654.5C1365.5 651.4 1368.2 649.4 1371.3 646.5C1374.4 643.6 1377.6 640.5 1380.7 637.3C1383.8 634.1 1387.1 630.8 1390.0 627.5C1392.9 624.2 1395.3 621.0 1398.0 617.5C1400.7 614.0 1403.6 609.9 1405.9 606.5C1408.2 603.1 1410.0 600.3 1412.0 597.0C1414.0 593.7 1415.9 590.4 1418.0 586.5C1420.1 582.6 1422.5 577.4 1424.5 573.5C1426.5 569.6 1427.8 566.6 1430.0 563.0C1432.2 559.4 1435.3 555.0 1437.6 552.0C1439.9 549.0 1441.8 547.2 1444.0 545.0C1446.2 542.8 1448.5 540.2 1450.7 539.0C1452.9 537.8 1456.0 538.0 1457.0 537.8"/>
<path d="M63.2 585.3C64.7 585.7 68.8 585.9 72.0 587.5C75.2 589.0 79.1 592.1 82.7 594.7C86.2 597.2 88.9 599.3 93.3 602.7C97.8 606.0 104.0 610.7 109.3 614.7C114.7 618.7 119.1 622.0 125.3 626.7C131.6 631.3 140.4 638.4 146.7 642.7C152.9 646.9 157.3 649.1 162.7 652.0C168.0 654.9 173.3 657.9 178.7 660.0C184.0 662.1 189.3 663.6 194.7 664.8C200.0 666.0 205.3 666.7 210.7 667.2C216.0 667.7 222.8 667.9 226.7 668.0C230.5 668.1 232.7 668.0 233.9 668.0"/>
<path d="M233.9 668.0C235.3 668.2 239.4 668.4 242.7 669.3C245.9 670.2 249.8 672.0 253.3 673.3C256.9 674.7 260.4 676.2 264.0 677.3C267.6 678.4 271.4 679.3 274.7 680.0C277.9 680.7 282.0 681.1 283.5 681.3"/>
<path d="M283.5 681.3L292.0 681.9"/>
<path d="M292.0 681.9C293.1 682.2 296.4 682.8 298.7 684.0C300.9 685.2 303.1 686.7 305.3 689.3C307.6 692.0 309.6 695.6 312.0 700.0C314.4 704.4 317.3 710.2 320.0 716.0C322.7 721.8 325.3 728.9 328.0 734.7C330.7 740.4 333.8 747.1 336.0 750.7C338.2 754.2 339.1 753.3 341.3 756.0C343.6 758.7 346.2 763.3 349.3 766.7C352.4 770.0 356.4 773.3 360.0 776.0C363.6 778.7 367.6 781.0 370.7 782.7C373.8 784.3 376.0 785.1 378.7 785.9C381.3 786.7 383.6 787.0 386.7 787.5C389.8 787.9 394.0 788.2 397.3 788.5C400.7 788.8 405.1 789.2 406.7 789.3"/>
<path d="M406.7 789.3C407.8 789.5 410.9 789.9 413.3 790.1C415.8 790.4 418.7 790.8 421.3 790.7C424.0 790.5 426.7 790.2 429.3 789.3C432.0 788.4 434.2 787.1 437.3 785.3C440.4 783.6 444.4 781.8 448.0 778.7C451.6 775.6 455.1 770.9 458.7 766.7C462.2 762.4 465.8 758.0 469.3 753.3C472.9 748.7 476.0 744.0 480.0 738.7C484.0 733.3 488.9 726.9 493.3 721.3C497.8 715.8 502.2 710.9 506.7 705.3C511.1 699.8 515.6 693.8 520.0 688.0C524.4 682.2 529.3 676.0 533.3 670.7C537.3 665.3 540.4 661.3 544.0 656.0C547.6 650.7 551.6 644.2 554.7 638.7C557.8 633.1 560.0 628.2 562.7 622.7C565.3 617.1 568.2 610.7 570.7 605.3C573.1 600.0 575.1 594.9 577.3 590.7C579.6 586.4 581.6 582.9 584.0 580.0C586.4 577.1 589.3 574.9 592.0 573.3C594.7 571.7 597.2 571.0 600.0 570.4C602.8 569.8 607.1 569.7 608.5 569.6"/>
<path d="M608.5 569.6C609.8 569.9 613.0 570.1 616.0 571.2C619.0 572.3 623.1 573.9 626.7 576.0C630.2 578.1 633.8 581.6 637.3 584.0C640.9 586.4 644.9 588.4 648.0 590.7C651.1 592.9 653.3 594.9 656.0 597.3C658.7 599.8 661.3 602.4 664.0 605.3C666.7 608.2 668.9 611.3 672.0 614.7C675.1 618.0 679.1 621.8 682.7 625.3C686.2 628.9 689.3 632.2 693.3 636.0C697.3 639.8 702.2 644.2 706.7 648.0C711.1 651.8 715.6 655.3 720.0 658.7C724.4 662.0 728.9 665.4 733.3 668.0C737.8 670.6 742.2 672.3 746.7 674.1C751.1 676.0 755.3 678.1 760.0 679.2C764.7 680.3 772.5 680.5 775.0 680.8"/>
<path d="M775.0 680.8L775.0 668.0"/>
<path d="M775.0 668.0C775.8 668.3 778.1 668.3 780.0 669.9C781.9 671.4 784.2 673.4 786.7 677.3C789.1 681.2 792.0 687.6 794.7 693.3C797.3 699.1 800.0 706.0 802.7 712.0C805.3 718.0 808.2 724.2 810.7 729.3C813.1 734.4 815.3 739.3 817.3 742.7C819.3 746.0 820.7 747.6 822.7 749.3C824.7 751.0 827.1 751.5 829.3 752.8C831.6 754.1 833.8 755.0 836.0 757.3C838.2 759.6 840.2 763.1 842.7 766.7C845.1 770.2 848.0 775.3 850.7 778.7C853.3 782.0 856.0 784.4 858.7 786.7C861.3 788.9 863.6 790.7 866.7 792.0C869.8 793.3 873.9 794.4 877.3 794.7C880.8 795.0 885.8 794.0 887.5 793.9"/>
<path d="M887.5 794.5C889.0 794.1 893.7 792.9 896.8 791.9C899.9 790.9 903.1 789.9 906.1 788.7C909.1 787.5 911.9 786.1 914.5 784.9C917.1 783.6 919.7 782.8 922.0 781.2C924.3 779.7 926.2 777.5 928.5 775.6C930.8 773.7 934.1 771.5 936.0 770.0C937.9 768.5 938.2 768.6 940.0 766.3C941.8 764.0 944.2 759.6 946.5 756.0C948.8 752.4 951.5 748.4 954.0 744.8C956.5 741.2 959.0 738.1 961.5 734.5C964.0 730.9 966.3 727.0 968.9 723.3C971.5 719.6 974.8 715.2 977.3 712.1C979.8 709.0 982.0 707.0 983.9 704.7C985.8 702.4 985.8 702.3 988.5 698.5C991.2 694.7 996.5 686.7 1000.0 681.9C1003.5 677.1 1006.2 673.9 1009.3 669.7C1012.4 665.5 1015.6 660.7 1018.7 656.7C1021.8 652.7 1024.9 649.2 1028.0 645.5C1031.1 641.8 1034.8 637.4 1037.3 634.3C1039.8 631.2 1040.7 629.4 1042.9 626.8C1045.1 624.1 1047.8 621.2 1050.4 618.4C1053.1 615.6 1056.1 613.3 1058.8 610.0C1061.5 606.7 1063.6 602.0 1066.7 598.5C1069.8 595.0 1073.2 591.2 1077.3 589.0C1081.4 586.8 1089.1 585.9 1091.5 585.3"/>
<path d="M1091.5 585.3C1093.6 586.0 1100.4 586.9 1104.0 589.3C1107.6 591.8 1110.0 596.6 1113.0 600.0C1116.0 603.4 1119.7 606.9 1122.3 610.0C1124.9 613.1 1126.8 615.9 1128.8 618.4C1130.8 620.9 1132.5 622.2 1134.4 624.9C1136.3 627.5 1136.8 629.6 1140.0 634.3C1143.2 639.0 1148.9 647.9 1153.3 653.3C1157.8 658.7 1162.2 662.2 1166.7 666.7C1171.1 671.1 1175.6 675.6 1180.0 680.0C1184.4 684.4 1188.9 689.3 1193.3 693.3C1197.8 697.3 1202.2 700.9 1206.7 704.0C1211.1 707.1 1215.6 709.6 1220.0 712.0C1224.4 714.4 1228.9 716.2 1233.3 718.1C1237.8 720.0 1242.2 722.2 1246.7 723.5C1251.1 724.7 1256.1 725.2 1260.0 725.6C1263.9 726.0 1268.3 725.8 1270.0 725.9"/>
<path d="M1270.0 725.9L1270.0 734.8"/>
<path d="M1270.0 734.8C1271.7 734.7 1277.0 734.6 1280.0 734.2C1283.0 733.8 1285.1 733.2 1288.0 732.5C1290.9 731.8 1293.6 731.4 1297.3 730.1C1301.0 728.8 1306.7 726.4 1310.4 724.5C1314.1 722.6 1316.6 720.5 1319.7 718.5C1322.8 716.5 1326.1 714.4 1329.1 712.4C1332.1 710.4 1335.0 708.7 1337.5 706.8C1340.0 704.9 1341.7 703.2 1344.0 701.2C1346.3 699.2 1349.3 696.8 1351.5 694.7C1353.7 692.6 1354.8 691.3 1357.3 688.7C1359.8 686.1 1363.6 682.4 1366.7 679.3C1369.8 676.2 1373.2 673.1 1376.0 670.0C1378.8 666.9 1381.2 663.7 1383.5 660.7C1385.8 657.8 1387.8 655.1 1390.0 652.3C1392.2 649.5 1394.5 646.7 1396.5 643.9C1398.5 641.1 1400.1 638.3 1402.1 635.5C1404.1 632.7 1406.5 629.9 1408.7 627.1C1410.9 624.3 1413.2 621.4 1415.2 618.7C1417.2 616.1 1419.1 613.6 1420.8 611.2C1422.5 608.8 1423.2 607.0 1425.5 604.3C1427.8 601.6 1431.8 597.5 1434.8 594.9C1437.8 592.2 1440.5 589.9 1443.2 588.4C1445.9 586.9 1448.4 586.2 1450.7 585.6C1453.0 585.0 1456.0 584.9 1457.0 584.7"/>
<path d="M63.2 614.7C64.7 615.1 68.8 615.6 72.0 617.3C75.2 619.1 79.1 622.0 82.7 625.3C86.2 628.7 89.8 632.9 93.3 637.3C96.9 641.8 100.4 646.4 104.0 652.0C107.6 657.6 110.7 664.2 114.7 670.7C118.7 677.1 123.6 683.8 128.0 690.7C132.4 697.6 136.9 705.6 141.3 712.0C145.8 718.4 150.7 724.4 154.7 729.3C158.7 734.2 162.2 738.0 165.3 741.3C168.4 744.7 170.7 747.3 173.3 749.3C176.0 751.3 178.7 752.3 181.3 753.3C184.0 754.4 186.7 755.1 189.3 755.5C192.0 755.8 194.2 755.9 197.3 755.5C200.4 755.0 204.4 753.7 208.0 752.8C211.6 751.9 215.6 750.8 218.7 750.1C221.8 749.5 224.1 749.1 226.7 748.8C229.2 748.5 232.7 748.6 233.9 748.5"/>
<path d="M233.9 748.5C242.1 748.5 273.8 748.5 283.5 748.5C293.2 748.5 290.6 748.5 292.0 748.5"/>
<path d="M292.0 748.5C294.4 748.7 302.4 749.2 306.7 749.6C310.9 750.0 313.8 750.0 317.3 750.7C320.9 751.3 324.9 752.2 328.0 753.3C331.1 754.4 334.0 756.0 336.0 757.3C338.0 758.7 338.2 758.4 340.0 761.3C341.8 764.2 344.2 770.4 346.7 774.7C349.1 778.9 352.0 783.3 354.7 786.7C357.3 790.0 359.6 792.6 362.7 794.7C365.8 796.8 369.3 798.2 373.3 799.2C377.3 800.2 381.1 800.4 386.7 800.8C392.2 801.2 403.3 801.7 406.7 801.9"/>
<path d="M406.7 801.9C408.7 802.4 414.9 804.2 418.7 805.3C422.4 806.5 425.8 808.0 429.3 808.8C432.9 809.6 436.9 810.3 440.0 810.1C443.1 810.0 445.3 809.2 448.0 808.0C450.7 806.8 452.9 805.6 456.0 802.7C459.1 799.8 462.7 795.3 466.7 790.7C470.7 786.0 475.6 780.0 480.0 774.7C484.4 769.3 489.8 762.7 493.3 758.7C496.9 754.7 497.8 754.7 501.3 750.7C504.9 746.7 510.2 740.0 514.7 734.7C519.1 729.3 524.0 723.8 528.0 718.7C532.0 713.6 535.1 709.3 538.7 704.0C542.2 698.7 545.8 692.2 549.3 686.7C552.9 681.1 556.4 675.8 560.0 670.7C563.6 665.6 567.6 659.8 570.7 656.0C573.8 652.2 576.0 650.2 578.7 648.0C581.3 645.8 583.6 644.1 586.7 642.7C589.8 641.2 593.7 640.1 597.3 639.5C601.0 638.8 606.7 638.8 608.5 638.7"/>
<path d="M608.5 638.7C609.8 638.8 613.4 638.5 616.0 639.2C618.6 639.9 621.3 641.2 624.0 642.7C626.7 644.1 629.3 645.6 632.0 648.0C634.7 650.4 637.3 653.8 640.0 657.3C642.7 660.9 645.3 664.7 648.0 669.3C650.7 674.0 653.3 680.2 656.0 685.3C658.7 690.4 660.9 694.2 664.0 700.0C667.1 705.8 671.1 714.2 674.7 720.0C678.2 725.8 682.2 730.2 685.3 734.7C688.4 739.1 690.7 743.3 693.3 746.7C696.0 750.0 698.7 751.8 701.3 754.7C704.0 757.6 707.1 761.3 709.3 764.0C711.6 766.7 713.2 769.3 714.7 770.7C716.1 772.0 716.1 772.3 717.9 772.0C719.6 771.7 722.3 770.6 725.3 768.8C728.4 767.0 732.4 763.6 736.0 761.3C739.6 759.1 743.1 757.1 746.7 755.5C750.2 753.8 753.8 752.4 757.3 751.5C760.9 750.5 765.1 750.0 768.0 749.6C770.9 749.2 773.8 748.9 775.0 748.8"/>
<path d="M775.0 748.8C776.1 748.8 778.5 748.4 781.3 748.5C784.2 748.6 788.4 748.9 792.0 749.3C795.6 749.8 799.6 750.3 802.7 751.2C805.8 752.1 808.2 753.3 810.7 754.7C813.1 756.0 815.3 757.2 817.3 759.2C819.3 761.2 820.4 763.2 822.7 766.7C824.9 770.1 828.0 776.2 830.7 780.0C833.3 783.8 836.0 786.7 838.7 789.3C841.3 792.0 843.8 794.1 846.7 796.0C849.6 797.9 852.7 799.6 856.0 800.8C859.3 802.0 863.1 802.5 866.7 803.5C870.2 804.4 873.9 805.5 877.3 806.7C880.8 807.9 885.8 810.0 887.5 810.7"/>
<path d="M887.5 811.5C888.1 812.0 889.3 813.0 891.2 814.3C893.1 815.6 896.2 817.8 898.7 819.5C901.2 821.2 903.6 822.9 906.1 824.6C908.6 826.3 911.3 828.2 913.6 829.7C915.9 831.2 918.2 832.5 920.1 833.9C922.0 835.3 923.4 837.2 924.8 837.9C926.2 838.6 927.2 838.2 928.5 837.9C929.8 837.6 930.9 837.2 932.3 836.3C933.7 835.4 935.3 833.9 936.9 832.5C938.5 831.1 940.2 829.1 941.6 827.9C943.0 826.7 944.0 826.4 945.3 825.1C946.5 823.9 947.5 822.1 949.1 820.4C950.7 818.7 952.7 816.8 954.7 814.8C956.7 812.8 958.9 810.5 961.2 808.3C963.5 806.0 966.7 803.6 968.7 801.3C970.7 799.0 971.6 796.6 973.3 794.3C975.0 792.0 976.9 790.2 978.9 787.7C980.9 785.2 983.2 782.2 985.5 779.3C987.8 776.3 990.4 773.6 992.5 770.0C994.6 766.4 996.1 761.8 997.9 757.9C999.7 754.0 1001.6 750.1 1003.5 746.7C1005.4 743.3 1007.2 740.9 1009.1 737.3C1011.0 733.7 1013.0 728.9 1014.7 725.2C1016.4 721.5 1017.8 718.0 1019.3 714.9C1020.8 711.8 1022.0 710.0 1023.8 706.5C1025.6 703.0 1028.0 698.1 1029.9 694.0C1031.9 689.9 1033.8 685.8 1035.5 681.9C1037.2 678.0 1038.7 674.1 1040.1 670.7C1041.5 667.3 1042.7 663.9 1043.9 661.3C1045.2 658.6 1046.2 657.1 1047.6 654.8C1049.0 652.5 1050.6 650.1 1052.3 647.3C1054.0 644.5 1056.0 640.8 1057.9 638.0C1059.8 635.2 1061.5 633.0 1063.5 630.5C1065.5 628.0 1067.8 625.1 1070.0 623.1C1072.2 621.1 1074.2 619.8 1076.5 618.4C1078.8 617.0 1081.5 615.5 1084.0 614.7C1086.5 613.9 1090.2 613.9 1091.5 613.7"/>
<path d="M1091.5 613.7C1092.4 613.9 1095.2 614.2 1097.1 614.7C1099.0 615.2 1100.5 615.3 1102.7 616.5C1104.9 617.7 1107.6 619.8 1110.1 622.1C1112.6 624.4 1115.1 627.7 1117.6 630.5C1120.1 633.3 1122.9 636.1 1125.1 638.9C1127.3 641.7 1129.0 644.2 1130.7 647.3C1132.4 650.4 1133.8 654.2 1135.3 657.6C1136.8 661.0 1138.8 665.3 1140.0 667.9C1141.2 670.5 1140.4 668.7 1142.7 673.3C1144.9 678.0 1149.8 688.9 1153.3 696.0C1156.9 703.1 1160.4 709.3 1164.0 716.0C1167.6 722.7 1171.1 730.2 1174.7 736.0C1178.2 741.8 1181.8 745.6 1185.3 750.7C1188.9 755.8 1192.4 762.2 1196.0 766.7C1199.6 771.1 1203.1 774.0 1206.7 777.3C1210.2 780.7 1213.8 784.0 1217.3 786.7C1220.9 789.3 1224.4 791.3 1228.0 793.3C1231.6 795.3 1235.1 797.0 1238.7 798.7C1242.2 800.4 1245.8 802.0 1249.3 803.5C1252.9 804.9 1256.6 806.4 1260.0 807.5C1263.4 808.6 1268.3 809.7 1270.0 810.1"/>
<path d="M1270.0 810.1L1270.0 796.5"/>
<path d="M1270.0 796.5C1271.9 796.2 1277.4 796.1 1281.3 794.7C1285.2 793.3 1290.0 790.2 1293.6 788.0C1297.2 785.8 1299.8 783.4 1302.9 781.5C1306.0 779.6 1309.2 778.7 1312.3 776.8C1315.4 774.9 1318.8 772.2 1321.6 770.3C1324.4 768.4 1326.4 767.2 1329.1 765.6C1331.8 764.0 1335.0 762.8 1337.5 760.9C1340.0 759.0 1341.4 756.6 1344.0 754.4C1346.6 752.2 1350.8 749.9 1353.3 747.9C1355.8 745.9 1356.9 744.3 1358.9 742.3C1360.9 740.3 1363.5 738.2 1365.5 735.7C1367.5 733.2 1369.2 730.1 1371.1 727.3C1373.0 724.5 1375.0 721.7 1376.7 718.9C1378.4 716.1 1379.8 713.5 1381.3 710.5C1382.8 707.5 1383.8 705.3 1386.0 701.2C1388.2 697.1 1392.3 690.3 1394.7 685.9C1397.1 681.5 1398.8 678.1 1400.3 674.7C1401.8 671.3 1402.6 668.1 1404.0 665.3C1405.4 662.5 1407.2 660.2 1408.7 657.9C1410.2 655.6 1411.6 653.9 1413.3 651.3C1415.0 648.6 1417.0 645.0 1418.9 642.0C1420.8 639.0 1422.6 635.9 1424.5 633.6C1426.4 631.3 1428.1 630.0 1430.1 628.0C1432.1 626.0 1434.5 623.4 1436.7 621.5C1438.9 619.6 1440.9 617.9 1443.2 616.8C1445.5 615.7 1448.4 615.4 1450.7 614.9C1453.0 614.4 1456.0 614.0 1457.0 613.8"/>
<path d="M63.2 675.5C64.2 675.6 67.4 675.6 69.3 676.5C71.2 677.5 72.4 678.5 74.7 681.3C76.9 684.1 80.0 689.3 82.7 693.3C85.3 697.3 88.2 701.3 90.7 705.3C93.1 709.3 94.4 710.9 97.3 717.3C100.2 723.8 104.6 735.9 108.0 744.0C111.4 752.1 114.7 759.0 118.0 766.0C121.3 773.0 124.5 779.3 128.0 786.0C131.5 792.7 135.9 801.2 139.0 806.0C142.1 810.8 144.1 812.2 146.7 814.7C149.3 817.1 152.0 819.1 154.7 820.5C157.3 822.0 160.0 822.9 162.7 823.2C165.3 823.5 168.0 822.8 170.7 822.1C173.3 821.5 176.0 820.3 178.7 819.5C181.3 818.7 183.6 817.8 186.7 817.3C189.8 816.9 193.8 816.7 197.3 816.8C200.9 816.9 204.4 817.4 208.0 817.9C211.6 818.3 215.6 819.0 218.7 819.5C221.8 819.9 224.1 820.4 226.7 820.5C229.2 820.7 232.7 820.5 233.9 820.5"/>
<path d="M233.9 820.5C235.3 820.3 239.4 819.8 242.7 818.9C245.9 818.0 249.8 816.4 253.3 815.2C256.9 814.0 260.4 812.6 264.0 811.5C267.6 810.3 271.4 809.0 274.7 808.3C277.9 807.5 282.0 807.2 283.5 806.9"/>
<path d="M283.5 806.9L292.0 806.7"/>
<path d="M292.0 806.7C294.4 806.7 302.4 806.4 306.7 806.7C310.9 806.9 313.8 807.5 317.3 808.3C320.9 809.1 324.4 810.0 328.0 811.5C331.6 813.0 335.1 814.6 338.7 817.3C342.2 820.1 346.2 824.2 349.3 828.0C352.4 831.8 354.7 835.6 357.3 840.0C360.0 844.4 362.7 850.0 365.3 854.7C368.0 859.3 370.9 864.4 373.3 868.0C375.8 871.6 377.8 874.0 380.0 876.0C382.2 878.0 384.2 879.0 386.7 880.0C389.1 881.0 392.0 881.9 394.7 881.9C397.3 881.9 400.7 880.6 402.7 880.0C404.7 879.4 406.0 878.4 406.7 878.1"/>
<path d="M406.7 878.1C407.8 877.6 410.4 876.6 413.3 874.7C416.2 872.8 420.9 869.3 424.0 866.7C427.1 864.0 428.9 860.6 432.0 858.7C435.1 856.8 439.1 855.9 442.7 855.2C446.2 854.5 449.8 854.6 453.3 854.7C456.9 854.7 460.4 855.8 464.0 855.5C467.6 855.1 471.1 854.0 474.7 852.5C478.2 851.1 481.8 849.4 485.3 846.7C488.9 843.9 492.4 840.0 496.0 836.0C499.6 832.0 504.3 826.0 506.7 822.7C509.0 819.3 507.8 820.1 510.0 816.0C512.2 811.9 516.7 804.3 520.0 798.0C523.3 791.7 526.7 784.7 530.0 778.0C533.3 771.3 536.7 765.3 540.0 758.0C543.3 750.7 547.0 741.3 550.0 734.0C553.0 726.7 555.9 719.0 558.0 714.0C560.1 709.0 560.6 708.3 562.7 704.0C564.8 699.7 568.0 692.9 570.7 688.0C573.3 683.1 576.0 678.2 578.7 674.7C581.3 671.1 583.6 669.0 586.7 666.7C589.8 664.3 593.7 661.9 597.3 660.5C601.0 659.2 606.7 658.8 608.5 658.4"/>
<path d="M608.5 658.4C609.8 658.9 613.4 659.3 616.0 661.3C618.6 663.4 621.3 666.7 624.0 670.7C626.7 674.7 629.3 680.0 632.0 685.3C634.7 690.7 637.3 697.1 640.0 702.7C642.7 708.2 645.8 713.8 648.0 718.7C650.2 723.6 651.1 727.1 653.3 732.0C655.6 736.9 658.2 741.8 661.3 748.0C664.4 754.2 668.9 763.8 672.0 769.3C675.1 774.9 677.3 778.2 680.0 781.3C682.7 784.4 685.6 786.4 688.0 788.0C690.4 789.6 692.4 790.5 694.7 790.7C696.9 790.8 698.9 789.9 701.3 788.8C703.8 787.7 706.7 785.3 709.3 784.0C712.0 782.7 714.9 780.8 717.3 780.8C719.8 780.8 721.8 782.6 724.0 784.0C726.2 785.4 728.2 787.6 730.7 789.3C733.1 791.1 736.0 793.1 738.7 794.7C741.3 796.2 743.6 797.2 746.7 798.7C749.8 800.1 753.8 802.1 757.3 803.2C760.9 804.3 765.1 804.8 768.0 805.3C770.9 805.9 773.8 806.4 775.0 806.7"/>
<path d="M775.0 806.7L775.0 820.7"/>
<path d="M775.0 858.0L775.0 824.8"/>
<path d="M775.0 820.5C776.9 820.7 782.9 821.2 786.7 821.6C790.4 822.0 793.8 822.7 797.3 823.2C800.9 823.7 804.7 824.0 808.0 824.8C811.3 825.6 814.2 826.4 817.3 828.0C820.4 829.6 823.3 831.8 826.7 834.7C830.0 837.6 833.8 841.6 837.3 845.3C840.9 849.1 844.4 853.8 848.0 857.3C851.6 860.9 855.6 864.4 858.7 866.7C861.8 869.0 863.6 869.9 866.7 871.2C869.8 872.5 873.9 874.3 877.3 874.7C880.8 875.0 885.8 873.6 887.5 873.3"/>
<path d="M887.5 873.3C888.9 872.9 892.9 872.5 896.0 870.7C899.1 868.8 903.3 864.7 906.1 862.4C908.9 860.1 910.5 858.8 912.7 856.8C914.9 854.8 917.0 852.4 919.2 850.3C921.4 848.2 924.2 845.3 925.7 844.2C927.2 843.1 927.2 843.6 928.5 843.7C929.8 843.9 931.5 844.6 933.2 845.1C934.9 845.6 936.8 846.7 938.8 847.0C940.8 847.3 943.3 847.4 945.3 847.0C947.3 846.6 949.0 845.6 950.9 844.7C952.8 843.9 954.6 843.1 956.5 841.9C958.4 840.6 959.9 838.6 962.1 837.2C964.3 835.8 967.1 834.8 969.6 833.5C972.1 832.2 974.6 831.0 977.1 829.7C979.6 828.5 982.0 827.2 984.5 826.0C987.0 824.8 989.8 823.7 992.0 822.3C994.2 820.9 995.7 819.5 997.6 817.6C999.5 815.7 1001.3 813.4 1003.2 811.1C1005.1 808.8 1007.2 806.1 1008.8 803.6C1010.3 801.1 1011.2 798.6 1012.5 796.1C1013.8 793.6 1015.0 791.5 1016.3 788.7C1017.5 785.9 1018.6 783.5 1020.0 779.3C1021.4 775.1 1023.5 767.9 1024.9 763.5C1026.4 759.1 1027.3 756.8 1028.7 753.2C1030.1 749.6 1031.8 745.7 1033.3 742.0C1034.8 738.3 1036.4 734.7 1038.0 730.8C1039.6 726.9 1041.0 722.5 1042.7 718.7C1044.5 714.9 1046.8 711.2 1048.5 708.0C1050.2 704.8 1051.6 702.1 1053.2 699.6C1054.8 697.1 1055.9 695.6 1057.9 693.1C1059.9 690.6 1063.0 687.1 1065.3 684.7C1067.6 682.3 1069.7 679.9 1071.9 678.6C1074.1 677.3 1076.4 677.3 1078.4 676.7C1080.4 676.1 1081.8 675.3 1084.0 674.9C1086.2 674.5 1090.2 674.5 1091.5 674.4"/>
<path d="M1091.5 674.4C1092.4 674.5 1095.2 674.7 1097.1 675.3C1099.0 675.9 1100.5 677.0 1102.7 678.1C1104.9 679.2 1107.8 680.2 1110.1 681.9C1112.4 683.6 1114.5 686.1 1116.7 688.4C1118.9 690.7 1120.9 692.8 1123.2 695.9C1125.5 699.0 1128.8 703.3 1130.7 707.1C1132.6 710.9 1132.7 714.1 1134.7 718.7C1136.7 723.3 1140.0 728.9 1142.7 734.7C1145.3 740.4 1148.2 747.6 1150.7 753.3C1153.1 759.1 1155.1 764.4 1157.3 769.3C1159.6 774.2 1161.6 778.2 1164.0 782.7C1166.4 787.1 1169.3 792.4 1172.0 796.0C1174.7 799.6 1176.9 801.7 1180.0 804.0C1183.1 806.3 1187.1 808.3 1190.7 809.9C1194.2 811.4 1197.8 812.4 1201.3 813.3C1204.9 814.3 1208.4 814.8 1212.0 815.5C1215.6 816.1 1219.1 816.8 1222.7 817.3C1226.2 817.9 1229.8 818.4 1233.3 818.7C1236.9 818.9 1240.4 819.0 1244.0 818.9C1247.6 818.8 1251.1 818.5 1254.7 818.1C1258.2 817.8 1262.8 817.1 1265.3 816.8C1267.9 816.5 1269.2 816.4 1270.0 816.3"/>
<path d="M1270.0 816.3L1270.0 819.5"/>
<path d="M1270.0 819.5C1271.9 819.7 1277.7 820.4 1281.3 820.8C1285.0 821.2 1288.4 821.7 1292.0 822.1C1295.6 822.6 1299.1 823.2 1302.7 823.5C1306.2 823.8 1309.3 823.9 1313.3 824.0C1317.3 824.1 1322.2 824.7 1326.7 824.0C1331.1 823.3 1336.1 821.7 1340.0 820.0C1343.9 818.3 1346.7 816.7 1350.0 814.0C1353.3 811.3 1356.7 807.7 1360.0 804.0C1363.3 800.3 1367.5 795.0 1370.0 792.0C1372.5 789.0 1373.1 788.3 1374.8 786.0C1376.5 783.7 1378.7 780.6 1380.4 778.0C1382.1 775.4 1383.5 773.1 1385.1 770.3C1386.6 767.4 1388.2 764.2 1389.7 760.9C1391.2 757.6 1392.7 754.3 1394.4 750.7C1396.1 747.1 1398.2 743.5 1400.0 739.5C1401.8 735.5 1403.0 731.4 1405.0 727.0C1407.0 722.6 1409.3 717.8 1412.0 713.0C1414.7 708.2 1419.2 701.4 1421.3 698.0C1423.4 694.6 1423.0 694.3 1424.5 692.4C1426.0 690.5 1428.1 688.7 1430.1 686.8C1432.1 684.9 1434.5 682.9 1436.7 681.2C1438.9 679.5 1440.9 677.6 1443.2 676.5C1445.5 675.4 1448.4 675.1 1450.7 674.7C1453.0 674.4 1456.0 674.5 1457.0 674.4"/>
<path d="M63.2 748.8C64.7 748.9 68.8 748.7 72.0 749.3C75.2 750.0 79.1 751.2 82.7 752.8C86.2 754.4 89.8 756.4 93.3 758.7C96.9 761.0 100.4 763.3 104.0 766.7C107.6 770.0 111.1 774.2 114.7 778.7C118.2 783.1 122.2 788.2 125.3 793.3C128.4 798.4 130.9 804.0 133.3 809.3C135.8 814.7 137.8 820.7 140.0 825.3C142.2 830.0 144.4 834.0 146.7 837.3C148.9 840.7 150.9 843.6 153.3 845.3C155.8 847.1 158.9 847.8 161.3 848.0C163.8 848.2 165.1 847.6 168.0 846.7C170.9 845.8 175.1 844.1 178.7 842.7C182.2 841.2 185.8 839.7 189.3 838.1C192.9 836.6 196.4 834.8 200.0 833.3C203.6 831.9 207.1 830.4 210.7 829.3C214.2 828.2 218.2 827.3 221.3 826.7C224.4 826.0 227.2 825.6 229.3 825.3C231.4 825.0 233.1 824.9 233.9 824.8"/>
<path d="M233.9 824.8C234.9 825.1 237.6 825.7 240.0 826.7C242.4 827.6 245.3 828.9 248.0 830.7C250.7 832.4 252.9 834.7 256.0 837.3C259.1 840.0 263.3 843.7 266.7 846.7C270.0 849.6 273.2 853.1 276.0 855.2C278.8 857.3 282.2 858.5 283.5 859.2"/>
<path d="M283.5 859.2L290.7 861.1"/>
<path d="M290.7 861.1C292.0 861.0 296.0 861.1 298.7 860.8C301.3 860.5 303.6 860.0 306.7 859.5C309.8 858.9 313.8 858.1 317.3 857.3C320.9 856.5 324.9 855.3 328.0 854.7C331.1 854.0 333.3 853.6 336.0 853.3C338.7 853.1 341.3 853.0 344.0 853.3C346.7 853.6 349.3 854.1 352.0 855.2C354.7 856.3 357.3 857.9 360.0 860.0C362.7 862.1 365.3 864.9 368.0 868.0C370.7 871.1 373.3 875.1 376.0 878.7C378.7 882.2 381.6 886.7 384.0 889.3C386.4 892.0 388.2 893.4 390.7 894.7C393.1 895.9 396.0 896.7 398.7 896.8C401.3 896.9 405.3 895.7 406.7 895.5"/>
<path d="M406.7 895.5C408.7 894.7 414.9 892.6 418.7 890.7C422.4 888.8 425.3 886.7 429.3 884.0C433.3 881.3 438.7 876.7 442.7 874.7C446.7 872.7 450.0 872.6 453.3 872.0C456.7 871.4 459.6 871.0 462.7 871.2C465.8 871.4 468.7 872.1 472.0 873.3C475.3 874.6 479.6 877.2 482.7 878.7C485.8 880.1 488.4 881.3 490.7 881.9C492.9 882.4 494.0 882.7 496.0 882.1C498.0 881.6 500.7 880.6 502.7 878.7C504.7 876.8 506.0 874.7 508.0 870.7C510.0 866.7 512.2 860.4 514.7 854.7C517.1 848.9 520.0 842.2 522.7 836.0C525.3 829.8 528.0 822.9 530.7 817.3C533.3 811.8 536.0 806.9 538.7 802.7C541.3 798.4 544.0 794.9 546.7 792.0C549.3 789.1 552.0 787.0 554.7 785.3C557.3 783.6 559.6 782.8 562.7 781.9C565.8 781.0 569.3 780.4 573.3 780.0C577.3 779.6 580.8 779.8 586.7 779.7C592.5 779.7 604.9 779.7 608.5 779.7"/>
<path d="M608.5 779.7C611.1 779.9 619.6 780.3 624.0 780.8C628.4 781.3 631.1 781.7 634.7 782.7C638.2 783.6 641.8 785.1 645.3 786.7C648.9 788.2 652.4 790.0 656.0 792.0C659.6 794.0 663.1 796.0 666.7 798.7C670.2 801.3 673.8 804.7 677.3 808.0C680.9 811.3 684.4 815.2 688.0 818.7C691.6 822.1 695.1 825.5 698.7 828.5C702.2 831.6 705.8 834.5 709.3 836.8C712.9 839.1 716.0 840.4 720.0 842.1C724.0 843.9 728.9 845.7 733.3 847.2C737.8 848.7 742.2 849.8 746.7 850.9C751.1 852.1 755.3 853.0 760.0 854.1C764.7 855.3 772.5 857.2 775.0 857.9"/>
<path d="M775.0 824.8C776.9 824.9 782.9 825.0 786.7 825.3C790.4 825.6 793.8 826.0 797.3 826.7C800.9 827.3 804.7 828.1 808.0 829.3C811.3 830.5 814.2 832.0 817.3 833.9C820.4 835.8 823.3 837.8 826.7 840.8C830.0 843.8 834.2 848.4 837.3 852.0C840.4 855.6 842.7 858.9 845.3 862.7C848.0 866.4 850.7 871.1 853.3 874.7C856.0 878.2 858.7 881.3 861.3 884.0C864.0 886.7 866.7 889.0 869.3 890.7C872.0 892.3 874.3 893.4 877.3 893.9C880.4 894.3 885.8 893.4 887.5 893.3"/>
<path d="M887.5 893.3C888.9 892.9 893.2 891.8 896.0 890.7C898.8 889.6 901.3 888.2 904.0 886.7C906.7 885.1 909.3 883.2 912.0 881.3C914.7 879.5 917.3 877.5 920.0 875.5C922.7 873.5 925.3 871.1 928.0 869.3C930.7 867.6 933.6 865.7 936.0 864.8C938.4 863.9 940.4 863.4 942.7 863.7C944.9 864.0 946.9 865.3 949.3 866.7C951.8 868.0 954.7 870.2 957.3 872.0C960.0 873.8 962.7 875.6 965.3 877.3C968.0 879.1 971.1 881.6 973.3 882.7C975.6 883.8 976.9 884.2 978.7 884.0C980.4 883.8 982.2 882.9 984.0 881.3C985.8 879.8 987.6 877.3 989.3 874.7C991.1 872.0 992.9 868.9 994.7 865.3C996.4 861.8 997.8 858.2 1000.0 853.3C1002.2 848.4 1005.3 841.6 1008.0 836.0C1010.7 830.4 1012.9 825.3 1016.0 820.0C1019.1 814.7 1023.1 809.1 1026.7 804.0C1030.2 798.9 1033.8 794.0 1037.3 789.3C1040.9 784.7 1044.4 780.0 1048.0 776.0C1051.6 772.0 1055.1 768.7 1058.7 765.3C1062.2 762.0 1065.8 758.4 1069.3 756.0C1072.9 753.6 1076.3 751.9 1080.0 750.7C1083.7 749.4 1089.6 748.9 1091.5 748.5"/>
<path d="M1091.5 748.5C1093.6 748.9 1100.1 749.2 1104.0 750.7C1107.9 752.1 1111.1 754.4 1114.7 757.3C1118.2 760.2 1121.8 764.2 1125.3 768.0C1128.9 771.8 1132.2 775.1 1136.0 780.0C1139.8 784.9 1144.2 791.6 1148.0 797.3C1151.8 803.1 1155.6 809.6 1158.7 814.7C1161.8 819.8 1164.0 822.9 1166.7 828.0C1169.3 833.1 1172.0 839.8 1174.7 845.3C1177.3 850.9 1180.0 856.2 1182.7 861.3C1185.3 866.4 1188.2 872.2 1190.7 876.0C1193.1 879.8 1195.3 882.4 1197.3 884.0C1199.3 885.6 1200.7 885.3 1202.7 885.3C1204.7 885.3 1206.9 885.1 1209.3 884.0C1211.8 882.9 1214.2 880.9 1217.3 878.7C1220.4 876.4 1224.4 873.3 1228.0 870.7C1231.6 868.0 1235.1 865.3 1238.7 862.7C1242.2 860.0 1245.8 857.0 1249.3 854.7C1252.9 852.3 1256.6 849.9 1260.0 848.5C1263.4 847.2 1268.3 847.0 1270.0 846.7"/>
<path d="M1270.0 846.7L1270.0 886.1"/>
<path d="M1270.0 886.1C1271.9 885.8 1277.7 885.0 1281.3 884.0C1285.0 883.0 1288.4 881.6 1292.0 880.0C1295.6 878.4 1299.1 876.2 1302.7 874.7C1306.2 873.1 1309.8 871.6 1313.3 870.7C1316.9 869.7 1320.4 869.3 1324.0 869.1C1327.6 868.8 1331.1 869.5 1334.7 869.3C1338.2 869.2 1342.4 868.9 1345.3 868.0C1348.2 867.1 1350.0 866.0 1352.0 864.0C1354.0 862.0 1355.3 859.6 1357.3 856.0C1359.3 852.4 1361.6 847.8 1364.0 842.7C1366.4 837.6 1369.3 830.9 1372.0 825.3C1374.7 819.8 1377.3 814.2 1380.0 809.3C1382.7 804.4 1385.3 800.2 1388.0 796.0C1390.7 791.8 1393.3 787.4 1396.0 784.0C1398.7 780.6 1400.9 778.4 1404.0 775.5C1407.1 772.6 1411.1 769.4 1414.7 766.7C1418.2 764.0 1421.8 761.3 1425.3 759.2C1428.9 757.1 1432.4 755.4 1436.0 753.9C1439.6 752.4 1443.1 751.1 1446.7 750.1C1450.2 749.2 1455.6 748.6 1457.3 748.3"/>
<path d="M63.2 879.2C64.7 879.4 68.5 879.5 72.0 880.3C75.5 881.1 80.0 882.5 84.0 884.0C88.0 885.5 92.4 887.2 96.0 889.1C99.6 890.9 102.5 892.8 105.9 894.9C109.2 897.1 112.7 899.5 116.0 901.9C119.3 904.2 123.0 907.1 125.9 909.1C128.8 911.1 131.0 912.8 133.3 913.9C135.7 914.9 137.8 915.3 140.0 915.5C142.2 915.6 144.4 914.4 146.7 914.7C148.9 915.0 151.1 916.0 153.3 917.3C155.6 918.7 157.6 920.2 160.0 922.7C162.4 925.1 164.9 928.4 168.0 932.0C171.1 935.6 175.1 940.2 178.7 944.0C182.2 947.8 185.8 951.7 189.3 954.7C192.9 957.6 196.4 960.1 200.0 961.9C203.6 963.6 207.1 964.5 210.7 965.3C214.2 966.1 217.5 966.4 221.3 966.7C225.2 966.9 231.8 966.9 233.9 966.9"/>
<path d="M233.9 966.9C235.8 966.8 242.1 966.7 245.3 966.1C248.6 965.6 250.7 964.5 253.3 963.5C256.0 962.4 258.7 961.0 261.3 960.0C264.0 959.0 266.7 958.4 269.3 957.3C272.0 956.2 275.0 954.4 277.3 953.3C279.7 952.2 282.4 951.1 283.5 950.7"/>
<path d="M283.5 950.7L290.7 948.8"/>
<path d="M290.7 948.8C292.4 948.7 296.9 948.2 301.3 948.0C305.8 947.8 312.0 947.7 317.3 947.5C322.7 947.2 328.4 946.8 333.3 946.7C338.2 946.5 342.2 946.5 346.7 946.7C351.1 946.8 355.6 947.1 360.0 947.5C364.4 947.8 369.3 948.1 373.3 948.8C377.3 949.5 380.9 950.3 384.0 951.5C387.1 952.7 389.3 954.4 392.0 956.0C394.7 957.6 397.6 959.7 400.0 961.3C402.4 962.9 405.6 964.9 406.7 965.6"/>
<path d="M406.7 965.6C408.2 966.4 412.7 969.4 416.0 970.7C419.3 972.0 422.2 972.7 426.7 973.3C431.1 974.0 438.2 974.6 442.7 974.7C447.1 974.8 449.8 974.0 453.3 973.9C456.9 973.8 460.4 973.8 464.0 974.1C467.6 974.5 471.1 975.5 474.7 976.0C478.2 976.5 482.4 977.2 485.3 977.3C488.2 977.5 489.8 977.7 492.0 976.8C494.2 975.9 496.2 974.1 498.7 972.0C501.1 969.9 504.0 967.1 506.7 964.0C509.3 960.9 512.0 956.9 514.7 953.3C517.3 949.8 520.2 945.7 522.7 942.7C525.1 939.6 527.6 936.7 529.3 935.2C531.1 933.7 531.8 933.7 533.3 933.9C534.9 934.0 536.0 934.3 538.7 936.0C541.3 937.7 545.8 941.4 549.3 944.0C552.9 946.6 556.4 949.0 560.0 951.5C563.6 953.9 567.1 956.2 570.7 958.7C574.2 961.1 577.8 964.0 581.3 966.1C584.9 968.3 588.9 970.1 592.0 971.5C595.1 972.8 597.2 973.6 600.0 974.1C602.8 974.7 607.1 974.6 608.5 974.7"/>
<path d="M608.5 974.7C610.2 974.8 615.2 975.0 618.7 975.2C622.1 975.4 626.2 975.6 629.3 975.7C632.4 975.9 635.1 976.4 637.3 976.3C639.6 976.1 641.1 975.6 642.7 974.7C644.2 973.7 645.3 972.9 646.7 970.7C648.0 968.4 649.1 964.7 650.7 961.3C652.2 958.0 654.0 954.2 656.0 950.7C658.0 947.1 660.4 942.7 662.7 940.0C664.9 937.3 667.3 935.8 669.3 934.7C671.3 933.6 672.9 933.1 674.7 933.3C676.4 933.6 678.0 934.0 680.0 936.0C682.0 938.0 684.4 942.0 686.7 945.3C688.9 948.7 690.9 952.2 693.3 956.0C695.8 959.8 698.7 964.4 701.3 968.0C704.0 971.6 706.9 975.0 709.3 977.3C711.8 979.7 713.3 980.9 716.0 982.1C718.7 983.3 722.0 983.8 725.3 984.5C728.7 985.3 732.4 986.0 736.0 986.7C739.6 987.3 742.7 988.0 746.7 988.5C750.7 989.1 755.3 989.5 760.0 989.9C764.7 990.2 772.5 990.5 775.0 990.7"/>
<path d="M775.0 991.2C776.9 990.9 782.9 990.2 786.7 989.3C790.4 988.4 793.8 987.1 797.3 985.9C800.9 984.7 804.4 983.5 808.0 982.1C811.6 980.8 815.1 979.1 818.7 977.9C822.2 976.6 825.8 975.3 829.3 974.7C832.9 974.0 836.4 974.0 840.0 973.9C843.6 973.8 847.1 973.6 850.7 974.1C854.2 974.6 857.8 975.8 861.3 976.8C864.9 977.8 868.9 979.3 872.0 980.0C875.1 980.7 877.4 980.7 880.0 980.8C882.6 980.9 886.2 980.8 887.5 980.8"/>
<path d="M887.5 980.8C888.9 980.7 893.7 979.7 896.0 980.0C898.3 980.3 899.1 981.4 901.3 982.7C903.6 983.9 906.7 986.1 909.3 987.5C912.0 988.8 914.7 989.9 917.3 990.7C920.0 991.5 922.7 991.9 925.3 992.3C928.0 992.6 930.7 992.8 933.3 992.8C936.0 992.8 938.7 992.8 941.3 992.3C944.0 991.7 946.7 990.7 949.3 989.3C952.0 988.0 954.7 986.2 957.3 984.0C960.0 981.8 962.7 979.6 965.3 976.0C968.0 972.4 970.7 967.3 973.3 962.7C976.0 958.0 978.7 952.7 981.3 948.0C984.0 943.3 987.1 938.0 989.3 934.7C991.6 931.3 992.9 929.6 994.7 928.0C996.4 926.4 998.2 925.4 1000.0 924.8C1001.8 924.2 1003.6 924.2 1005.3 924.5C1007.1 924.8 1008.4 925.3 1010.7 926.7C1012.9 928.0 1015.6 930.1 1018.7 932.5C1021.8 935.0 1025.8 938.5 1029.3 941.3C1032.9 944.1 1036.4 946.7 1040.0 949.3C1043.6 952.0 1047.1 954.8 1050.7 957.3C1054.2 959.9 1057.8 962.4 1061.3 964.5C1064.9 966.7 1068.4 968.6 1072.0 970.1C1075.6 971.6 1079.4 972.8 1082.7 973.6C1085.9 974.4 1090.0 974.5 1091.5 974.7"/>
<path d="M1091.5 974.7C1093.1 974.5 1097.9 974.3 1101.3 973.6C1104.8 972.9 1108.4 972.0 1112.0 970.7C1115.6 969.3 1119.1 967.3 1122.7 965.3C1126.2 963.3 1130.0 960.9 1133.3 958.7C1136.7 956.4 1139.3 954.5 1142.7 952.0C1146.0 949.5 1149.8 946.3 1153.3 943.5C1156.9 940.7 1161.1 937.2 1164.0 935.2C1166.9 933.2 1168.9 932.2 1170.7 931.5C1172.4 930.8 1173.1 930.6 1174.7 930.9C1176.2 931.2 1178.2 931.8 1180.0 933.3C1181.8 934.8 1183.3 937.1 1185.3 940.0C1187.3 942.9 1189.8 946.7 1192.0 950.7C1194.2 954.7 1196.2 960.0 1198.7 964.0C1201.1 968.0 1204.0 971.1 1206.7 974.7C1209.3 978.2 1212.2 982.4 1214.7 985.3C1217.1 988.2 1219.6 990.2 1221.3 992.0C1223.1 993.8 1224.7 995.3 1225.3 996.0"/>
<path d="M1310.7 994.7C1311.6 994.2 1313.8 992.8 1316.0 992.0C1318.2 991.2 1321.3 991.2 1324.0 990.1C1326.7 989.0 1329.3 987.9 1332.0 985.3C1334.7 982.8 1337.3 978.7 1340.0 974.7C1342.7 970.7 1345.3 965.8 1348.0 961.3C1350.7 956.9 1353.3 952.2 1356.0 948.0C1358.7 943.8 1361.6 938.9 1364.0 936.0C1366.4 933.1 1368.9 931.7 1370.7 930.7C1372.4 929.6 1373.1 929.6 1374.7 929.9C1376.2 930.1 1377.8 930.5 1380.0 932.0C1382.2 933.5 1384.9 936.0 1388.0 938.7C1391.1 941.3 1395.1 945.0 1398.7 948.0C1402.2 951.0 1405.8 954.0 1409.3 956.8C1412.9 959.6 1416.4 962.4 1420.0 964.5C1423.6 966.7 1426.7 968.4 1430.7 969.9C1434.7 971.4 1439.6 972.8 1444.0 973.6C1448.4 974.4 1455.1 974.7 1457.3 974.9"/>
<path d="M63.2 974.7C65.6 974.8 72.3 975.0 77.3 975.2C82.4 975.4 88.9 975.6 93.3 975.7C97.8 975.9 101.0 976.0 104.0 976.0C107.0 976.0 109.2 976.8 111.5 975.5C113.7 974.1 115.5 970.6 117.3 968.0C119.2 965.4 120.7 962.7 122.7 960.0C124.7 957.3 127.3 954.1 129.3 952.0C131.3 949.9 133.1 948.4 134.7 947.5C136.2 946.5 137.1 946.3 138.7 946.4C140.2 946.5 141.8 946.4 144.0 948.0C146.2 949.6 148.9 952.9 152.0 956.0C155.1 959.1 159.6 963.1 162.7 966.7C165.8 970.2 168.2 974.4 170.7 977.3C173.1 980.2 174.7 982.4 177.3 984.0C180.0 985.6 182.9 985.9 186.7 986.7C190.4 987.5 195.6 988.2 200.0 988.8C204.4 989.4 207.7 989.8 213.3 990.1C219.0 990.5 230.4 990.9 233.9 991.0"/>
<path d="M233.9 991.0C237.1 991.0 247.1 991.0 253.3 991.0C259.6 991.0 267.9 991.2 271.5 991.0C275.0 990.8 272.7 990.2 274.7 990.0C276.7 989.8 280.6 990.0 283.5 990.0C286.4 990.0 290.6 990.0 292.0 990.0"/>
<path d="M292.0 990.0C294.4 990.0 302.5 990.1 306.7 990.0C310.8 989.9 313.2 989.9 316.8 989.5C320.4 989.0 324.4 988.5 328.0 987.5C331.6 986.4 335.1 984.8 338.7 983.2C342.2 981.6 345.8 979.6 349.3 977.9C352.9 976.1 356.4 974.0 360.0 972.5C363.6 971.0 367.6 969.7 370.7 968.8C373.8 967.9 376.0 967.3 378.7 967.2C381.3 967.1 383.6 967.6 386.7 968.0C389.8 968.4 394.0 969.0 397.3 969.3C400.7 969.6 405.1 969.8 406.7 969.9"/>
<path d="M406.7 969.9C407.8 969.3 410.9 967.5 413.3 966.7C415.8 965.8 418.7 965.7 421.3 964.8C424.0 963.9 426.2 963.0 429.3 961.3C432.4 959.6 436.4 956.4 440.0 954.7C443.6 952.9 447.1 952.1 450.7 950.7C454.2 949.2 458.0 947.5 461.3 946.1C464.7 944.8 468.0 944.4 470.7 942.7C473.3 941.0 474.9 938.7 477.3 936.0C479.8 933.3 482.9 929.6 485.3 926.7C487.8 923.8 489.8 920.9 492.0 918.7C494.2 916.4 496.4 914.4 498.7 913.3C500.9 912.2 503.1 911.9 505.3 912.0C507.6 912.1 509.6 912.8 512.0 913.9C514.4 915.0 517.6 917.3 520.0 918.7C522.4 920.0 524.8 921.2 526.7 921.9C528.5 922.6 529.6 923.2 531.2 922.9C532.8 922.6 533.9 921.8 536.0 920.0C538.1 918.2 541.3 915.0 544.0 912.0C546.7 909.0 549.3 905.1 552.0 902.1C554.7 899.2 556.9 896.9 560.0 894.1C563.1 891.3 567.1 888.0 570.7 885.3C574.2 882.7 577.8 880.0 581.3 878.1C584.9 876.2 588.9 874.9 592.0 873.9C595.1 872.8 597.2 872.4 600.0 872.0C602.8 871.6 607.1 871.6 608.5 871.5"/>
<path d="M608.5 871.5C609.8 871.6 613.0 871.8 616.0 872.5C619.0 873.3 623.1 874.3 626.7 876.0C630.2 877.7 633.8 880.0 637.3 882.7C640.9 885.3 644.9 889.1 648.0 892.0C651.1 894.9 653.3 897.3 656.0 900.0C658.7 902.7 661.8 905.8 664.0 908.0C666.2 910.2 667.8 911.9 669.3 913.3C670.9 914.8 671.8 916.1 673.3 916.5C674.9 917.0 676.7 916.3 678.7 916.0C680.7 915.7 683.3 914.7 685.3 914.7C687.3 914.7 688.9 915.1 690.7 916.0C692.4 916.9 693.8 918.0 696.0 920.0C698.2 922.0 701.3 924.7 704.0 928.0C706.7 931.3 709.3 936.2 712.0 940.0C714.7 943.8 717.3 947.5 720.0 950.7C722.7 953.9 725.3 957.1 728.0 959.2C730.7 961.3 733.6 962.4 736.0 963.2C738.4 964.0 740.4 964.2 742.7 964.0C744.9 963.8 746.4 963.0 749.3 961.9C752.2 960.8 756.4 958.9 760.0 957.3C763.6 955.8 768.2 953.6 770.7 952.5C773.2 951.4 774.3 951.0 775.0 950.7"/>
<path d="M775.0 950.7L775.0 966.7"/>
<path d="M775.0 966.7C776.9 966.6 782.9 966.6 786.7 966.1C790.4 965.7 793.8 964.9 797.3 964.0C800.9 963.1 804.4 961.9 808.0 960.8C811.6 959.7 815.1 958.5 818.7 957.3C822.2 956.2 825.8 954.9 829.3 953.9C832.9 952.8 836.4 951.9 840.0 951.2C843.6 950.5 847.6 949.9 850.7 949.6C853.8 949.3 856.0 949.0 858.7 949.3C861.3 949.6 864.0 950.1 866.7 951.5C869.3 952.8 872.0 955.2 874.7 957.3C877.3 959.4 880.5 962.4 882.7 964.0C884.8 965.6 886.7 966.7 887.5 967.2"/>
<path d="M887.5 967.2C888.0 967.4 889.0 968.1 890.7 968.5C892.3 969.0 895.1 970.1 897.3 969.9C899.6 969.6 901.1 968.6 904.0 967.2C906.9 965.8 911.1 963.3 914.7 961.3C918.2 959.4 921.8 957.5 925.3 955.5C928.9 953.5 932.4 951.7 936.0 949.3C939.6 947.0 943.1 944.4 946.7 941.3C950.2 938.2 954.2 934.0 957.3 930.7C960.4 927.3 962.7 924.4 965.3 921.3C968.0 918.2 971.1 914.3 973.3 912.0C975.6 909.7 976.9 908.5 978.7 907.5C980.4 906.4 982.2 906.0 984.0 905.9C985.8 905.7 987.6 906.2 989.3 906.7C991.1 907.2 993.1 908.4 994.7 908.8C996.2 909.2 997.3 909.6 998.7 909.3C1000.0 909.1 1001.1 908.8 1002.7 907.5C1004.2 906.1 1005.8 904.1 1008.0 901.3C1010.2 898.5 1013.3 893.8 1016.0 890.7C1018.7 887.6 1021.3 884.7 1024.0 882.7C1026.7 880.7 1029.3 879.6 1032.0 878.7C1034.7 877.7 1036.4 877.3 1040.0 877.1C1043.6 876.8 1048.9 876.9 1053.3 877.1C1057.8 877.2 1062.2 877.9 1066.7 878.1C1071.1 878.4 1075.9 878.5 1080.0 878.7C1084.1 878.8 1089.6 878.9 1091.5 878.9"/>
<path d="M1091.5 878.9C1094.0 878.9 1101.9 878.9 1106.7 878.9C1111.4 879.0 1116.0 879.0 1120.0 879.2C1124.0 879.4 1127.8 879.4 1130.7 880.0C1133.6 880.6 1134.4 881.6 1137.3 882.7C1140.2 883.8 1144.9 884.9 1148.0 886.7C1151.1 888.4 1153.3 891.1 1156.0 893.3C1158.7 895.6 1161.3 897.6 1164.0 900.0C1166.7 902.4 1169.3 905.8 1172.0 908.0C1174.7 910.2 1176.4 912.4 1180.0 913.3C1183.6 914.3 1189.8 912.8 1193.3 913.9C1196.9 915.0 1198.7 917.2 1201.3 920.0C1204.0 922.8 1206.7 927.3 1209.3 930.7C1212.0 934.0 1214.2 937.3 1217.3 940.0C1220.4 942.7 1224.4 945.0 1228.0 946.7C1231.6 948.3 1235.1 949.2 1238.7 949.9C1242.2 950.6 1245.8 950.6 1249.3 950.9C1252.9 951.3 1256.6 951.8 1260.0 952.0C1263.4 952.2 1268.3 952.2 1270.0 952.3"/>
<path d="M1270.0 952.3L1270.0 936.8"/>
<path d="M1270.0 936.8C1271.0 937.0 1273.7 937.0 1276.0 937.9C1278.3 938.8 1281.3 940.5 1284.0 942.1C1286.7 943.7 1289.3 945.5 1292.0 947.5C1294.7 949.4 1297.6 952.3 1300.0 953.9C1302.4 955.4 1304.7 956.1 1306.7 956.8C1308.7 957.5 1310.0 958.0 1312.0 957.9C1314.0 957.7 1316.2 957.4 1318.7 956.0C1321.1 954.6 1324.0 952.7 1326.7 949.3C1329.3 946.0 1332.0 940.2 1334.7 936.0C1337.3 931.8 1340.0 927.3 1342.7 924.0C1345.3 920.7 1348.2 917.8 1350.7 916.0C1353.1 914.2 1355.1 913.6 1357.3 913.3C1359.6 913.1 1361.8 914.2 1364.0 914.7C1366.2 915.1 1368.4 916.1 1370.7 916.0C1372.9 915.9 1374.9 915.4 1377.3 913.9C1379.8 912.3 1382.7 909.1 1385.3 906.7C1388.0 904.3 1390.2 901.9 1393.3 899.5C1396.4 897.0 1400.4 894.1 1404.0 892.0C1407.6 889.9 1410.7 888.2 1414.7 886.7C1418.7 885.1 1423.6 883.7 1428.0 882.7C1432.4 881.6 1436.4 881.2 1441.3 880.5C1446.2 879.9 1454.7 879.2 1457.3 878.9"/>
<path d="M100.0 996.0C100.4 995.3 101.3 994.0 102.7 992.0C104.0 990.0 106.2 986.3 108.0 984.0C109.8 981.7 111.3 979.2 113.3 978.1C115.3 977.0 117.1 977.2 120.0 977.3C122.9 977.4 127.1 978.1 130.7 978.7C134.2 979.2 137.8 980.0 141.3 980.5C144.9 981.1 148.4 981.6 152.0 982.1C155.6 982.6 159.6 982.8 162.7 983.5C165.8 984.1 168.4 984.8 170.7 985.9C172.9 986.9 174.4 988.8 176.0 989.9C177.6 991.0 178.9 991.7 180.0 992.5C181.1 993.3 182.2 994.3 182.7 994.7"/>
<path d="M634.7 996.0C635.0 995.3 635.9 993.8 636.8 992.0C637.7 990.2 638.8 987.4 640.0 985.3C641.2 983.2 642.7 980.9 644.0 979.5C645.3 978.0 646.0 977.2 648.0 976.8C650.0 976.4 652.9 977.1 656.0 977.3C659.1 977.6 662.7 977.8 666.7 978.1C670.7 978.5 675.6 978.9 680.0 979.5C684.4 980.0 689.3 980.7 693.3 981.3C697.3 982.0 701.1 982.3 704.0 983.2C706.9 984.1 708.4 985.2 710.7 986.7C712.9 988.1 715.8 990.7 717.3 992.0C718.9 993.3 719.6 994.2 720.0 994.7"/>
</g>
<g stroke="#000" stroke-width="2" fill="none" shape-rendering="crispEdges">
<path d="M63 993.0h11M1457 993.0h-11"/>
<path d="M63 855.0h11M1457 855.0h-11"/>
<path d="M63 717.0h11M1457 717.0h-11"/>
<path d="M63 579.0h11M1457 579.0h-11"/>
<path d="M63 442.0h11M1457 442.0h-11"/>
<path d="M63 304.0h11M1457 304.0h-11"/>
<path d="M63 166.0h11M1457 166.0h-11"/>
<path d="M63 28.0h11M1457 28.0h-11"/>
<path d="M233 993v-11M233 28v11"/>
<path d="M283 993v-11M283 28v11"/>
<path d="M292 993v-11M292 28v11"/>
<path d="M406 993v-11M406 28v11"/>
<path d="M608 993v-11M608 28v11"/>
<path d="M775 993v-11M775 28v11"/>
<path d="M887 993v-11M887 28v11"/>
<path d="M1091 993v-11M1091 28v11"/>
<path d="M1270 993v-11M1270 28v11"/>
</g>
<path d="M63 304H1457" stroke="#56b4e9" stroke-width="2" fill="none" shape-rendering="crispEdges"/>
<rect x="63" y="28" width="1394" height="965" fill="none" stroke="#000" stroke-width="2" shape-rendering="crispEdges"/>
<text class="t" x="47.2" y="1000.1" text-anchor="end">-5</text>
<text class="t" x="47.2" y="862.1" text-anchor="end">-4</text>
<text class="t" x="47.2" y="724.1" text-anchor="end">-3</text>
<text class="t" x="47.2" y="586.1" text-anchor="end">-2</text>
<path fill="#000" d="M42.99 449.10L40.88 449.10L40.88 435.66Q40.12 436.39 38.88 437.11Q37.65 437.84 36.66 438.20L36.66 436.16Q38.43 435.33 39.76 434.15Q41.08 432.96 41.63 431.85L42.99 431.85Z"/>
<text class="t" x="33.8" y="449.1" text-anchor="end">-</text>
<text class="t" x="45.5" y="311.1" text-anchor="end">0</text>
<path fill="#000" d="M41.09 173.10L38.98 173.10L38.98 159.66Q38.22 160.39 36.98 161.11Q35.75 161.84 34.76 162.20L34.76 160.16Q36.53 159.33 37.86 158.15Q39.18 156.96 39.73 155.85L41.09 155.85Z"/>
<text class="t" x="45.5" y="35.1" text-anchor="end">2</text>
<text class="g" x="63" y="1027.9" text-anchor="middle" textLength="15.6" lengthAdjust="spacingAndGlyphs">Γ</text>
<text class="t" x="231.8" y="1027.9" text-anchor="middle">Y</text>
<text class="t" x="282.6" y="1027.9" text-anchor="middle">F</text>
<text class="t" x="291.6" y="1027.9" text-anchor="middle">L</text>
<text class="t" x="391" y="1027.9" text-anchor="middle">I</text>
<text class="t" x="414.5" y="1027.9" text-anchor="middle">I</text>
<path fill="#000" d="M428.59 1033.90L426.90 1033.90L426.90 1023.15Q426.29 1023.73 425.30 1024.31Q424.31 1024.89 423.52 1025.18L423.52 1023.55Q424.94 1022.88 426.00 1021.94Q427.06 1020.99 427.50 1020.10L428.59 1020.10Z"/>
<text class="t" x="607.5" y="1027.9" text-anchor="middle">Z</text>
<text class="t" x="753.6" y="1027.9" text-anchor="middle">F</text>
<path fill="#000" d="M768.55 1033.90L766.87 1033.90L766.87 1023.15Q766.26 1023.73 765.27 1024.31Q764.28 1024.89 763.49 1025.18L763.49 1023.55Q764.91 1022.88 765.97 1021.94Q767.02 1020.99 767.47 1020.10L768.55 1020.10Z"/>
<text class="t" x="790" y="1027.9" text-anchor="middle">Y</text>
<text class="t" x="864.6" y="1027.9" text-anchor="middle">X</text>
<path fill="#000" d="M882.65 1033.90L880.97 1033.90L880.97 1023.15Q880.36 1023.73 879.37 1024.31Q878.38 1024.89 877.59 1025.18L877.59 1023.55Q879.01 1022.88 880.07 1021.94Q881.12 1020.99 881.57 1020.10L882.65 1020.10Z"/>
<text class="t" x="901.4" y="1027.9" text-anchor="middle">X</text>
<text class="g" x="1091" y="1027.9" text-anchor="middle" textLength="15.6" lengthAdjust="spacingAndGlyphs">Γ</text>
<text class="t" x="1255" y="1027.9" text-anchor="middle">N</text>
<text class="t" x="1284.5" y="1027.9" text-anchor="middle">M</text>
<text class="g" x="1457" y="1027.9" text-anchor="middle" textLength="15.6" lengthAdjust="spacingAndGlyphs">Γ</text>
</svg>
</body></html>
